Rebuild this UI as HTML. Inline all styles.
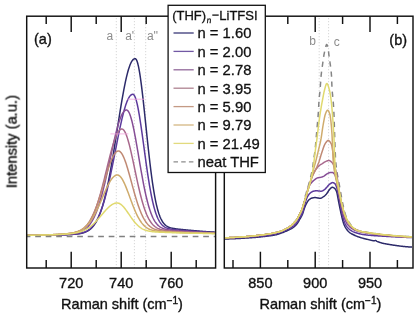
<!DOCTYPE html>
<html><head><meta charset="utf-8"><style>
html,body{margin:0;padding:0;background:#fff;}
svg{display:block;}
text{font-family:"Liberation Sans",sans-serif;}
</style></head><body>
<svg width="420" height="317" viewBox="0 0 420 317">
<defs><filter id="gs" x="0" y="0" width="420" height="317" filterUnits="userSpaceOnUse"><feColorMatrix type="saturate" values="0"/></filter></defs>
<rect width="420" height="317" fill="#fff"/>
<path d="M116.3,18.2V268.0" stroke="#c8c8c8" stroke-width="0.9" stroke-dasharray="1,2" fill="none"/>
<path d="M134.4,18.2V268.0" stroke="#c8c8c8" stroke-width="0.9" stroke-dasharray="1,2" fill="none"/>
<path d="M145.7,18.2V268.0" stroke="#c8c8c8" stroke-width="0.9" stroke-dasharray="1,2" fill="none"/>
<path d="M319.2,18.2V268.0" stroke="#c8c8c8" stroke-width="0.9" stroke-dasharray="1,2" fill="none"/>
<path d="M328.6,18.2V268.0" stroke="#c8c8c8" stroke-width="0.9" stroke-dasharray="1,2" fill="none"/>
<g fill="none" stroke-width="1.5" stroke-linejoin="round">
<path d="M27.40,235.38 L27.90,235.38 L28.40,235.37 L28.90,235.37 L29.40,235.36 L29.90,235.36 L30.40,235.35 L30.90,235.35 L31.40,235.34 L31.90,235.34 L32.40,235.33 L32.90,235.33 L33.40,235.32 L33.90,235.32 L34.40,235.31 L34.90,235.31 L35.40,235.30 L35.90,235.30 L36.40,235.29 L36.90,235.28 L37.40,235.28 L37.90,235.27 L38.40,235.27 L38.90,235.26 L39.40,235.25 L39.90,235.25 L40.40,235.24 L40.90,235.24 L41.40,235.23 L41.90,235.22 L42.40,235.22 L42.90,235.21 L43.40,235.20 L43.90,235.20 L44.40,235.19 L44.90,235.18 L45.40,235.17 L45.90,235.17 L46.40,235.16 L46.90,235.15 L47.40,235.14 L47.90,235.14 L48.40,235.13 L48.90,235.12 L49.40,235.11 L49.90,235.10 L50.40,235.10 L50.90,235.09 L51.40,235.08 L51.90,235.07 L52.40,235.06 L52.90,235.05 L53.40,235.04 L53.90,235.03 L54.40,235.02 L54.90,235.01 L55.40,235.00 L55.90,234.99 L56.40,234.98 L56.90,234.97 L57.40,234.96 L57.90,234.95 L58.40,234.93 L58.90,234.92 L59.40,234.91 L59.90,234.90 L60.40,234.88 L60.90,234.87 L61.40,234.86 L61.90,234.84 L62.40,234.83 L62.90,234.81 L63.40,234.80 L63.90,234.78 L64.40,234.77 L64.90,234.75 L65.40,234.73 L65.90,234.72 L66.40,234.70 L66.90,234.68 L67.40,234.66 L67.90,234.64 L68.40,234.62 L68.90,234.60 L69.40,234.57 L69.90,234.55 L70.40,234.52 L70.90,234.50 L71.40,234.47 L71.90,234.44 L72.40,234.41 L72.90,234.38 L73.40,234.34 L73.90,234.31 L74.40,234.27 L74.90,234.22 L75.40,234.18 L75.90,234.13 L76.40,234.08 L76.90,234.03 L77.40,233.97 L77.90,233.91 L78.40,233.84 L78.90,233.77 L79.40,233.69 L79.90,233.61 L80.40,233.52 L80.90,233.42 L81.40,233.32 L81.90,233.20 L82.40,233.08 L82.90,232.95 L83.40,232.80 L83.90,232.65 L84.40,232.48 L84.90,232.30 L85.40,232.11 L85.90,231.90 L86.40,231.67 L86.90,231.43 L87.40,231.17 L87.90,230.88 L88.40,230.58 L88.90,230.25 L89.40,229.90 L89.90,229.52 L90.40,229.12 L90.90,228.68 L91.40,228.22 L91.90,227.72 L92.40,227.19 L92.90,226.62 L93.40,226.01 L93.90,225.37 L94.40,224.68 L94.90,223.95 L95.40,223.17 L95.90,222.34 L96.40,221.47 L96.90,220.54 L97.40,219.57 L97.90,218.53 L98.40,217.44 L98.90,216.29 L99.40,215.08 L99.90,213.80 L100.40,212.47 L100.90,211.06 L101.40,209.59 L101.90,208.06 L102.40,206.45 L102.90,204.77 L103.40,203.02 L103.90,201.20 L104.40,199.31 L104.90,197.34 L105.40,195.30 L105.90,193.19 L106.40,191.00 L106.90,188.74 L107.40,186.42 L107.90,184.02 L108.40,181.55 L108.90,179.01 L109.40,176.41 L109.90,173.74 L110.40,171.02 L110.90,168.23 L111.40,165.39 L111.90,162.49 L112.40,159.55 L112.90,156.56 L113.40,153.52 L113.90,150.45 L114.40,147.35 L114.90,144.22 L115.40,141.06 L115.90,137.89 L116.40,134.70 L116.90,131.51 L117.40,128.31 L117.90,125.12 L118.40,121.94 L118.90,118.77 L119.40,115.63 L119.90,112.51 L120.40,109.43 L120.90,106.39 L121.40,103.40 L121.90,100.46 L122.40,97.58 L122.90,94.77 L123.40,92.03 L123.90,89.37 L124.40,86.79 L124.90,84.30 L125.40,81.90 L125.90,79.60 L126.40,77.41 L126.90,75.32 L127.40,73.35 L127.90,71.49 L128.40,69.76 L128.90,68.14 L129.40,66.65 L129.90,65.29 L130.40,64.05 L130.90,62.95 L131.40,61.98 L131.90,61.13 L132.40,60.42 L132.90,59.84 L133.40,59.38 L133.90,59.04 L134.40,58.82 L134.90,58.72 L135.40,58.73 L135.90,59.06 L136.40,59.77 L136.90,60.84 L137.40,62.27 L137.90,64.05 L138.40,66.17 L138.90,68.62 L139.40,71.38 L139.90,74.43 L140.40,77.75 L140.90,81.32 L141.40,85.13 L141.90,89.14 L142.40,93.34 L142.90,97.70 L143.40,102.19 L143.90,106.80 L144.40,111.49 L144.90,116.25 L145.40,121.05 L145.90,125.87 L146.40,130.69 L146.90,135.48 L147.40,140.23 L147.90,144.91 L148.40,149.52 L148.90,154.04 L149.40,158.44 L149.90,162.73 L150.40,166.89 L150.90,170.90 L151.40,174.77 L151.90,178.48 L152.40,182.03 L152.90,185.43 L153.40,188.65 L153.90,191.71 L154.40,194.61 L154.90,197.34 L155.40,199.90 L155.90,202.31 L156.40,204.57 L156.90,206.67 L157.40,208.62 L157.90,210.44 L158.40,212.12 L158.90,213.67 L159.40,215.10 L159.90,216.42 L160.40,217.62 L160.90,218.73 L161.40,219.73 L161.90,220.65 L162.40,221.49 L162.90,222.24 L163.40,222.93 L163.90,223.55 L164.40,224.11 L164.90,224.62 L165.40,225.07 L165.90,225.48 L166.40,225.85 L166.90,226.18 L167.40,226.48 L167.90,226.75 L168.40,226.99 L168.90,227.21 L169.40,227.40 L169.90,227.58 L170.40,227.74 L170.90,227.88 L171.40,228.02 L171.90,228.14 L172.40,228.25 L172.90,228.35 L173.40,228.44 L173.90,228.53 L174.40,228.61 L174.90,228.69 L175.40,228.76 L175.90,228.83 L176.40,228.89 L176.90,228.96 L177.40,229.02 L177.90,229.08 L178.40,229.13 L178.90,229.19 L179.40,229.24 L179.90,229.30 L180.40,229.35 L180.90,229.40 L181.40,229.45 L181.90,229.50 L182.40,229.55 L182.90,229.60 L183.40,229.65 L183.90,229.70 L184.40,229.75 L184.90,229.80 L185.40,229.85 L185.90,229.90 L186.40,229.95 L186.90,229.99 L187.40,230.04 L187.90,230.09 L188.40,230.14 L188.90,230.18 L189.40,230.23 L189.90,230.28 L190.40,230.32 L190.90,230.37 L191.40,230.41 L191.90,230.46 L192.40,230.50 L192.90,230.55 L193.40,230.59 L193.90,230.64 L194.40,230.68 L194.90,230.73 L195.40,230.77 L195.90,230.81 L196.40,230.85 L196.90,230.90 L197.40,230.94 L197.90,230.98 L198.40,231.02 L198.90,231.06 L199.40,231.10 L199.90,231.14 L200.40,231.19 L200.90,231.22 L201.40,231.26 L201.90,231.30 L202.40,231.34 L202.90,231.38 L203.40,231.42 L203.90,231.45 L204.40,231.49 L204.90,231.53 L205.40,231.56 L205.90,231.60 L206.40,231.64 L206.90,231.67 L207.40,231.70 L207.90,231.74 L208.40,231.77 L208.90,231.81 L209.40,231.84 L209.90,231.87 L210.40,231.90 L210.90,231.93 L211.40,231.96 L211.90,232.00 L212.40,232.03 L212.90,232.06 L213.40,232.08 L213.90,232.11 L214.40,232.14 L214.90,232.17" stroke="#2c2a6a"/>
<path d="M27.40,235.38 L27.90,235.38 L28.40,235.37 L28.90,235.37 L29.40,235.36 L29.90,235.36 L30.40,235.35 L30.90,235.35 L31.40,235.34 L31.90,235.34 L32.40,235.33 L32.90,235.32 L33.40,235.32 L33.90,235.31 L34.40,235.31 L34.90,235.30 L35.40,235.30 L35.90,235.29 L36.40,235.28 L36.90,235.28 L37.40,235.27 L37.90,235.27 L38.40,235.26 L38.90,235.25 L39.40,235.25 L39.90,235.24 L40.40,235.23 L40.90,235.23 L41.40,235.22 L41.90,235.21 L42.40,235.21 L42.90,235.20 L43.40,235.19 L43.90,235.19 L44.40,235.18 L44.90,235.17 L45.40,235.16 L45.90,235.16 L46.40,235.15 L46.90,235.14 L47.40,235.13 L47.90,235.12 L48.40,235.12 L48.90,235.11 L49.40,235.10 L49.90,235.09 L50.40,235.08 L50.90,235.07 L51.40,235.06 L51.90,235.05 L52.40,235.04 L52.90,235.03 L53.40,235.02 L53.90,235.01 L54.40,235.00 L54.90,234.99 L55.40,234.98 L55.90,234.97 L56.40,234.96 L56.90,234.94 L57.40,234.93 L57.90,234.92 L58.40,234.91 L58.90,234.89 L59.40,234.88 L59.90,234.87 L60.40,234.85 L60.90,234.84 L61.40,234.82 L61.90,234.81 L62.40,234.79 L62.90,234.78 L63.40,234.76 L63.90,234.74 L64.40,234.73 L64.90,234.71 L65.40,234.69 L65.90,234.67 L66.40,234.65 L66.90,234.63 L67.40,234.61 L67.90,234.58 L68.40,234.56 L68.90,234.54 L69.40,234.51 L69.90,234.48 L70.40,234.45 L70.90,234.42 L71.40,234.39 L71.90,234.36 L72.40,234.32 L72.90,234.29 L73.40,234.25 L73.90,234.20 L74.40,234.16 L74.90,234.11 L75.40,234.06 L75.90,234.00 L76.40,233.95 L76.90,233.88 L77.40,233.82 L77.90,233.74 L78.40,233.67 L78.90,233.58 L79.40,233.50 L79.90,233.40 L80.40,233.30 L80.90,233.19 L81.40,233.07 L81.90,232.94 L82.40,232.80 L82.90,232.65 L83.40,232.49 L83.90,232.32 L84.40,232.14 L84.90,231.94 L85.40,231.73 L85.90,231.50 L86.40,231.25 L86.90,230.99 L87.40,230.71 L87.90,230.41 L88.40,230.08 L88.90,229.74 L89.40,229.37 L89.90,228.97 L90.40,228.55 L90.90,228.10 L91.40,227.62 L91.90,227.12 L92.40,226.57 L92.90,226.00 L93.40,225.39 L93.90,224.74 L94.40,224.05 L94.90,223.33 L95.40,222.56 L95.90,221.75 L96.40,220.90 L96.90,220.00 L97.40,219.05 L97.90,218.06 L98.40,217.01 L98.90,215.92 L99.40,214.77 L99.90,213.57 L100.40,212.31 L100.90,211.00 L101.40,209.63 L101.90,208.21 L102.40,206.73 L102.90,205.19 L103.40,203.59 L103.90,201.94 L104.40,200.23 L104.90,198.46 L105.40,196.63 L105.90,194.75 L106.40,192.81 L106.90,190.82 L107.40,188.77 L107.90,186.67 L108.40,184.53 L108.90,182.33 L109.40,180.09 L109.90,177.80 L110.40,175.47 L110.90,173.10 L111.40,170.70 L111.90,168.27 L112.40,165.80 L112.90,163.31 L113.40,160.80 L113.90,158.27 L114.40,155.73 L114.90,153.18 L115.40,150.62 L115.90,148.06 L116.40,145.51 L116.90,142.97 L117.40,140.44 L117.90,137.93 L118.40,135.45 L118.90,132.99 L119.40,130.58 L119.90,128.20 L120.40,125.86 L120.90,123.58 L121.40,121.35 L121.90,119.19 L122.40,117.09 L122.90,115.06 L123.40,113.10 L123.90,111.22 L124.40,109.43 L124.90,107.72 L125.40,106.10 L125.90,104.58 L126.40,103.16 L126.90,101.83 L127.40,100.61 L127.90,99.50 L128.40,98.49 L128.90,97.59 L129.40,96.80 L129.90,96.12 L130.40,95.55 L130.90,95.09 L131.40,94.73 L131.90,94.49 L132.40,94.35 L132.90,94.30 L133.40,94.43 L133.90,94.84 L134.40,95.53 L134.90,96.48 L135.40,97.69 L135.90,99.16 L136.40,100.88 L136.90,102.83 L137.40,105.01 L137.90,107.40 L138.40,109.99 L138.90,112.76 L139.40,115.70 L139.90,118.79 L140.40,122.02 L140.90,125.36 L141.40,128.81 L141.90,132.33 L142.40,135.93 L142.90,139.57 L143.40,143.24 L143.90,146.94 L144.40,150.63 L144.90,154.31 L145.40,157.96 L145.90,161.57 L146.40,165.12 L146.90,168.61 L147.40,172.02 L147.90,175.36 L148.40,178.59 L148.90,181.73 L149.40,184.76 L149.90,187.68 L150.40,190.49 L150.90,193.17 L151.40,195.74 L151.90,198.18 L152.40,200.50 L152.90,202.70 L153.40,204.78 L153.90,206.74 L154.40,208.58 L154.90,210.31 L155.40,211.92 L155.90,213.43 L156.40,214.84 L156.90,216.14 L157.40,217.35 L157.90,218.47 L158.40,219.50 L158.90,220.45 L159.40,221.32 L159.90,222.12 L160.40,222.85 L160.90,223.52 L161.40,224.13 L161.90,224.69 L162.40,225.19 L162.90,225.65 L163.40,226.07 L163.90,226.44 L164.40,226.78 L164.90,227.09 L165.40,227.37 L165.90,227.62 L166.40,227.85 L166.90,228.06 L167.40,228.25 L167.90,228.41 L168.40,228.57 L168.90,228.71 L169.40,228.83 L169.90,228.95 L170.40,229.05 L170.90,229.15 L171.40,229.24 L171.90,229.33 L172.40,229.40 L172.90,229.47 L173.40,229.54 L173.90,229.61 L174.40,229.67 L174.90,229.72 L175.40,229.78 L175.90,229.83 L176.40,229.88 L176.90,229.93 L177.40,229.98 L177.90,230.03 L178.40,230.08 L178.90,230.12 L179.40,230.17 L179.90,230.21 L180.40,230.25 L180.90,230.29 L181.40,230.34 L181.90,230.38 L182.40,230.42 L182.90,230.46 L183.40,230.50 L183.90,230.54 L184.40,230.58 L184.90,230.62 L185.40,230.66 L185.90,230.70 L186.40,230.74 L186.90,230.78 L187.40,230.82 L187.90,230.86 L188.40,230.90 L188.90,230.94 L189.40,230.98 L189.90,231.02 L190.40,231.05 L190.90,231.09 L191.40,231.13 L191.90,231.17 L192.40,231.20 L192.90,231.24 L193.40,231.28 L193.90,231.31 L194.40,231.35 L194.90,231.38 L195.40,231.42 L195.90,231.45 L196.40,231.49 L196.90,231.52 L197.40,231.56 L197.90,231.59 L198.40,231.62 L198.90,231.66 L199.40,231.69 L199.90,231.72 L200.40,231.75 L200.90,231.79 L201.40,231.82 L201.90,231.85 L202.40,231.88 L202.90,231.91 L203.40,231.94 L203.90,231.97 L204.40,232.00 L204.90,232.03 L205.40,232.06 L205.90,232.08 L206.40,232.11 L206.90,232.14 L207.40,232.17 L207.90,232.19 L208.40,232.22 L208.90,232.25 L209.40,232.27 L209.90,232.30 L210.40,232.32 L210.90,232.35 L211.40,232.37 L211.90,232.39 L212.40,232.42 L212.90,232.44 L213.40,232.46 L213.90,232.49 L214.40,232.51 L214.90,232.53" stroke="#5c3a9c"/>
<path d="M27.40,235.37 L27.90,235.36 L28.40,235.35 L28.90,235.35 L29.40,235.34 L29.90,235.34 L30.40,235.33 L30.90,235.32 L31.40,235.32 L31.90,235.31 L32.40,235.30 L32.90,235.30 L33.40,235.29 L33.90,235.28 L34.40,235.28 L34.90,235.27 L35.40,235.26 L35.90,235.26 L36.40,235.25 L36.90,235.24 L37.40,235.23 L37.90,235.23 L38.40,235.22 L38.90,235.21 L39.40,235.20 L39.90,235.19 L40.40,235.19 L40.90,235.18 L41.40,235.17 L41.90,235.16 L42.40,235.15 L42.90,235.14 L43.40,235.13 L43.90,235.12 L44.40,235.11 L44.90,235.10 L45.40,235.09 L45.90,235.08 L46.40,235.07 L46.90,235.06 L47.40,235.05 L47.90,235.04 L48.40,235.03 L48.90,235.02 L49.40,235.01 L49.90,234.99 L50.40,234.98 L50.90,234.97 L51.40,234.95 L51.90,234.94 L52.40,234.93 L52.90,234.91 L53.40,234.90 L53.90,234.89 L54.40,234.87 L54.90,234.86 L55.40,234.84 L55.90,234.82 L56.40,234.81 L56.90,234.79 L57.40,234.77 L57.90,234.76 L58.40,234.74 L58.90,234.72 L59.40,234.70 L59.90,234.68 L60.40,234.66 L60.90,234.64 L61.40,234.62 L61.90,234.59 L62.40,234.57 L62.90,234.55 L63.40,234.52 L63.90,234.49 L64.40,234.47 L64.90,234.44 L65.40,234.41 L65.90,234.38 L66.40,234.34 L66.90,234.31 L67.40,234.28 L67.90,234.24 L68.40,234.20 L68.90,234.16 L69.40,234.11 L69.90,234.06 L70.40,234.02 L70.90,233.96 L71.40,233.91 L71.90,233.85 L72.40,233.78 L72.90,233.72 L73.40,233.64 L73.90,233.57 L74.40,233.48 L74.90,233.39 L75.40,233.30 L75.90,233.20 L76.40,233.09 L76.90,232.97 L77.40,232.85 L77.90,232.71 L78.40,232.57 L78.90,232.41 L79.40,232.25 L79.90,232.07 L80.40,231.88 L80.90,231.67 L81.40,231.45 L81.90,231.22 L82.40,230.96 L82.90,230.69 L83.40,230.40 L83.90,230.09 L84.40,229.76 L84.90,229.41 L85.40,229.03 L85.90,228.63 L86.40,228.20 L86.90,227.74 L87.40,227.25 L87.90,226.74 L88.40,226.19 L88.90,225.61 L89.40,224.99 L89.90,224.34 L90.40,223.65 L90.90,222.91 L91.40,222.14 L91.90,221.33 L92.40,220.47 L92.90,219.57 L93.40,218.63 L93.90,217.63 L94.40,216.59 L94.90,215.50 L95.40,214.35 L95.90,213.16 L96.40,211.92 L96.90,210.62 L97.40,209.27 L97.90,207.86 L98.40,206.40 L98.90,204.89 L99.40,203.32 L99.90,201.70 L100.40,200.02 L100.90,198.30 L101.40,196.52 L101.90,194.69 L102.40,192.80 L102.90,190.87 L103.40,188.90 L103.90,186.88 L104.40,184.81 L104.90,182.71 L105.40,180.56 L105.90,178.38 L106.40,176.17 L106.90,173.93 L107.40,171.66 L107.90,169.37 L108.40,167.06 L108.90,164.74 L109.40,162.40 L109.90,160.06 L110.40,157.72 L110.90,155.38 L111.40,153.04 L111.90,150.72 L112.40,148.42 L112.90,146.14 L113.40,143.89 L113.90,141.67 L114.40,139.48 L114.90,137.34 L115.40,135.25 L115.90,133.22 L116.40,131.24 L116.90,129.32 L117.40,127.47 L117.90,125.69 L118.40,123.99 L118.90,122.38 L119.40,120.84 L119.90,119.40 L120.40,118.05 L120.90,116.80 L121.40,115.65 L121.90,114.60 L122.40,113.65 L122.90,112.81 L123.40,112.08 L123.90,111.46 L124.40,110.95 L124.90,110.55 L125.40,110.26 L125.90,110.08 L126.40,110.00 L126.90,110.06 L127.40,110.32 L127.90,110.77 L128.40,111.42 L128.90,112.26 L129.40,113.29 L129.90,114.50 L130.40,115.89 L130.90,117.45 L131.40,119.17 L131.90,121.04 L132.40,123.07 L132.90,125.22 L133.40,127.51 L133.90,129.91 L134.40,132.41 L134.90,135.02 L135.40,137.70 L135.90,140.45 L136.40,143.27 L136.90,146.14 L137.40,149.04 L137.90,151.97 L138.40,154.92 L138.90,157.88 L139.40,160.83 L139.90,163.77 L140.40,166.69 L140.90,169.57 L141.40,172.42 L141.90,175.23 L142.40,177.98 L142.90,180.67 L143.40,183.30 L143.90,185.86 L144.40,188.34 L144.90,190.75 L145.40,193.08 L145.90,195.32 L146.40,197.48 L146.90,199.55 L147.40,201.53 L147.90,203.43 L148.40,205.24 L148.90,206.96 L149.40,208.59 L149.90,210.14 L150.40,211.60 L150.90,212.99 L151.40,214.29 L151.90,215.51 L152.40,216.66 L152.90,217.73 L153.40,218.74 L153.90,219.68 L154.40,220.55 L154.90,221.36 L155.40,222.12 L155.90,222.82 L156.40,223.46 L156.90,224.06 L157.40,224.61 L157.90,225.12 L158.40,225.59 L158.90,226.02 L159.40,226.42 L159.90,226.78 L160.40,227.11 L160.90,227.42 L161.40,227.70 L161.90,227.95 L162.40,228.19 L162.90,228.40 L163.40,228.60 L163.90,228.78 L164.40,228.94 L164.90,229.09 L165.40,229.23 L165.90,229.36 L166.40,229.48 L166.90,229.58 L167.40,229.68 L167.90,229.78 L168.40,229.86 L168.90,229.94 L169.40,230.02 L169.90,230.09 L170.40,230.15 L170.90,230.22 L171.40,230.28 L171.90,230.33 L172.40,230.39 L172.90,230.44 L173.40,230.49 L173.90,230.54 L174.40,230.58 L174.90,230.63 L175.40,230.67 L175.90,230.71 L176.40,230.76 L176.90,230.80 L177.40,230.84 L177.90,230.88 L178.40,230.92 L178.90,230.96 L179.40,230.99 L179.90,231.03 L180.40,231.07 L180.90,231.11 L181.40,231.14 L181.90,231.18 L182.40,231.21 L182.90,231.25 L183.40,231.29 L183.90,231.32 L184.40,231.36 L184.90,231.39 L185.40,231.42 L185.90,231.46 L186.40,231.49 L186.90,231.53 L187.40,231.56 L187.90,231.59 L188.40,231.62 L188.90,231.66 L189.40,231.69 L189.90,231.72 L190.40,231.75 L190.90,231.78 L191.40,231.81 L191.90,231.85 L192.40,231.88 L192.90,231.91 L193.40,231.94 L193.90,231.96 L194.40,231.99 L194.90,232.02 L195.40,232.05 L195.90,232.08 L196.40,232.11 L196.90,232.13 L197.40,232.16 L197.90,232.19 L198.40,232.22 L198.90,232.24 L199.40,232.27 L199.90,232.29 L200.40,232.32 L200.90,232.34 L201.40,232.37 L201.90,232.39 L202.40,232.42 L202.90,232.44 L203.40,232.46 L203.90,232.49 L204.40,232.51 L204.90,232.53 L205.40,232.55 L205.90,232.57 L206.40,232.59 L206.90,232.62 L207.40,232.64 L207.90,232.66 L208.40,232.68 L208.90,232.70 L209.40,232.71 L209.90,232.73 L210.40,232.75 L210.90,232.77 L211.40,232.79 L211.90,232.80 L212.40,232.82 L212.90,232.84 L213.40,232.86 L213.90,232.87 L214.40,232.89 L214.90,232.90" stroke="#864e96"/>
<path d="M27.40,235.34 L27.90,235.33 L28.40,235.33 L28.90,235.32 L29.40,235.31 L29.90,235.30 L30.40,235.30 L30.90,235.29 L31.40,235.28 L31.90,235.27 L32.40,235.26 L32.90,235.26 L33.40,235.25 L33.90,235.24 L34.40,235.23 L34.90,235.22 L35.40,235.21 L35.90,235.20 L36.40,235.19 L36.90,235.18 L37.40,235.17 L37.90,235.16 L38.40,235.15 L38.90,235.14 L39.40,235.13 L39.90,235.12 L40.40,235.11 L40.90,235.10 L41.40,235.09 L41.90,235.08 L42.40,235.06 L42.90,235.05 L43.40,235.04 L43.90,235.03 L44.40,235.01 L44.90,235.00 L45.40,234.98 L45.90,234.97 L46.40,234.96 L46.90,234.94 L47.40,234.93 L47.90,234.91 L48.40,234.90 L48.90,234.88 L49.40,234.86 L49.90,234.85 L50.40,234.83 L50.90,234.81 L51.40,234.79 L51.90,234.77 L52.40,234.76 L52.90,234.74 L53.40,234.72 L53.90,234.70 L54.40,234.68 L54.90,234.65 L55.40,234.63 L55.90,234.61 L56.40,234.59 L56.90,234.56 L57.40,234.54 L57.90,234.51 L58.40,234.49 L58.90,234.46 L59.40,234.44 L59.90,234.41 L60.40,234.38 L60.90,234.35 L61.40,234.32 L61.90,234.29 L62.40,234.25 L62.90,234.22 L63.40,234.18 L63.90,234.15 L64.40,234.11 L64.90,234.07 L65.40,234.03 L65.90,233.98 L66.40,233.94 L66.90,233.89 L67.40,233.84 L67.90,233.79 L68.40,233.73 L68.90,233.67 L69.40,233.61 L69.90,233.54 L70.40,233.47 L70.90,233.40 L71.40,233.32 L71.90,233.24 L72.40,233.15 L72.90,233.05 L73.40,232.95 L73.90,232.85 L74.40,232.73 L74.90,232.61 L75.40,232.48 L75.90,232.34 L76.40,232.19 L76.90,232.03 L77.40,231.86 L77.90,231.68 L78.40,231.48 L78.90,231.28 L79.40,231.05 L79.90,230.81 L80.40,230.56 L80.90,230.29 L81.40,230.00 L81.90,229.69 L82.40,229.36 L82.90,229.00 L83.40,228.63 L83.90,228.23 L84.40,227.80 L84.90,227.35 L85.40,226.87 L85.90,226.36 L86.40,225.82 L86.90,225.25 L87.40,224.64 L87.90,224.00 L88.40,223.32 L88.90,222.61 L89.40,221.85 L89.90,221.06 L90.40,220.23 L90.90,219.35 L91.40,218.43 L91.90,217.47 L92.40,216.46 L92.90,215.40 L93.40,214.30 L93.90,213.15 L94.40,211.95 L94.90,210.71 L95.40,209.41 L95.90,208.07 L96.40,206.68 L96.90,205.24 L97.40,203.75 L97.90,202.21 L98.40,200.63 L98.90,199.00 L99.40,197.33 L99.90,195.61 L100.40,193.86 L100.90,192.06 L101.40,190.22 L101.90,188.35 L102.40,186.45 L102.90,184.52 L103.40,182.55 L103.90,180.57 L104.40,178.56 L104.90,176.54 L105.40,174.50 L105.90,172.45 L106.40,170.40 L106.90,168.34 L107.40,166.29 L107.90,164.24 L108.40,162.21 L108.90,160.19 L109.40,158.20 L109.90,156.23 L110.40,154.30 L110.90,152.40 L111.40,150.54 L111.90,148.73 L112.40,146.97 L112.90,145.27 L113.40,143.63 L113.90,142.05 L114.40,140.55 L114.90,139.12 L115.40,137.77 L115.90,136.51 L116.40,135.33 L116.90,134.25 L117.40,133.26 L117.90,132.36 L118.40,131.57 L118.90,130.88 L119.40,130.29 L119.90,129.82 L120.40,129.45 L120.90,129.19 L121.40,129.04 L121.90,129.00 L122.40,129.11 L122.90,129.36 L123.40,129.77 L123.90,130.33 L124.40,131.03 L124.90,131.88 L125.40,132.87 L125.90,133.99 L126.40,135.24 L126.90,136.62 L127.40,138.12 L127.90,139.74 L128.40,141.45 L128.90,143.27 L129.40,145.18 L129.90,147.17 L130.40,149.24 L130.90,151.37 L131.40,153.56 L131.90,155.81 L132.40,158.10 L132.90,160.42 L133.40,162.77 L133.90,165.13 L134.40,167.51 L134.90,169.89 L135.40,172.27 L135.90,174.64 L136.40,176.99 L136.90,179.32 L137.40,181.62 L137.90,183.88 L138.40,186.10 L138.90,188.28 L139.40,190.41 L139.90,192.49 L140.40,194.52 L140.90,196.48 L141.40,198.38 L141.90,200.23 L142.40,202.00 L142.90,203.71 L143.40,205.35 L143.90,206.93 L144.40,208.44 L144.90,209.88 L145.40,211.25 L145.90,212.56 L146.40,213.80 L146.90,214.98 L147.40,216.09 L147.90,217.15 L148.40,218.14 L148.90,219.07 L149.40,219.95 L149.90,220.78 L150.40,221.55 L150.90,222.27 L151.40,222.95 L151.90,223.58 L152.40,224.16 L152.90,224.71 L153.40,225.22 L153.90,225.69 L154.40,226.12 L154.90,226.52 L155.40,226.90 L155.90,227.24 L156.40,227.56 L156.90,227.85 L157.40,228.12 L157.90,228.37 L158.40,228.60 L158.90,228.81 L159.40,229.00 L159.90,229.18 L160.40,229.34 L160.90,229.49 L161.40,229.63 L161.90,229.76 L162.40,229.88 L162.90,229.99 L163.40,230.09 L163.90,230.19 L164.40,230.27 L164.90,230.35 L165.40,230.43 L165.90,230.50 L166.40,230.57 L166.90,230.63 L167.40,230.69 L167.90,230.75 L168.40,230.80 L168.90,230.85 L169.40,230.90 L169.90,230.95 L170.40,230.99 L170.90,231.04 L171.40,231.08 L171.90,231.12 L172.40,231.16 L172.90,231.20 L173.40,231.23 L173.90,231.27 L174.40,231.31 L174.90,231.34 L175.40,231.38 L175.90,231.41 L176.40,231.45 L176.90,231.48 L177.40,231.51 L177.90,231.54 L178.40,231.58 L178.90,231.61 L179.40,231.64 L179.90,231.67 L180.40,231.70 L180.90,231.73 L181.40,231.76 L181.90,231.79 L182.40,231.82 L182.90,231.85 L183.40,231.88 L183.90,231.91 L184.40,231.94 L184.90,231.97 L185.40,232.00 L185.90,232.02 L186.40,232.05 L186.90,232.08 L187.40,232.11 L187.90,232.13 L188.40,232.16 L188.90,232.19 L189.40,232.21 L189.90,232.24 L190.40,232.26 L190.90,232.29 L191.40,232.31 L191.90,232.34 L192.40,232.36 L192.90,232.39 L193.40,232.41 L193.90,232.43 L194.40,232.46 L194.90,232.48 L195.40,232.50 L195.90,232.52 L196.40,232.55 L196.90,232.57 L197.40,232.59 L197.90,232.61 L198.40,232.63 L198.90,232.65 L199.40,232.67 L199.90,232.69 L200.40,232.71 L200.90,232.73 L201.40,232.75 L201.90,232.77 L202.40,232.79 L202.90,232.80 L203.40,232.82 L203.90,232.84 L204.40,232.86 L204.90,232.87 L205.40,232.89 L205.90,232.90 L206.40,232.92 L206.90,232.94 L207.40,232.95 L207.90,232.97 L208.40,232.98 L208.90,232.99 L209.40,233.01 L209.90,233.02 L210.40,233.04 L210.90,233.05 L211.40,233.06 L211.90,233.07 L212.40,233.09 L212.90,233.10 L213.40,233.11 L213.90,233.12 L214.40,233.13 L214.90,233.14" stroke="#a8688c"/>
<path d="M27.40,235.32 L27.90,235.31 L28.40,235.30 L28.90,235.30 L29.40,235.29 L29.90,235.28 L30.40,235.27 L30.90,235.26 L31.40,235.25 L31.90,235.24 L32.40,235.24 L32.90,235.23 L33.40,235.22 L33.90,235.21 L34.40,235.20 L34.90,235.19 L35.40,235.18 L35.90,235.17 L36.40,235.16 L36.90,235.14 L37.40,235.13 L37.90,235.12 L38.40,235.11 L38.90,235.10 L39.40,235.09 L39.90,235.07 L40.40,235.06 L40.90,235.05 L41.40,235.03 L41.90,235.02 L42.40,235.01 L42.90,234.99 L43.40,234.98 L43.90,234.96 L44.40,234.95 L44.90,234.93 L45.40,234.92 L45.90,234.90 L46.40,234.89 L46.90,234.87 L47.40,234.85 L47.90,234.83 L48.40,234.82 L48.90,234.80 L49.40,234.78 L49.90,234.76 L50.40,234.74 L50.90,234.72 L51.40,234.70 L51.90,234.68 L52.40,234.66 L52.90,234.64 L53.40,234.61 L53.90,234.59 L54.40,234.57 L54.90,234.55 L55.40,234.52 L55.90,234.50 L56.40,234.47 L56.90,234.44 L57.40,234.42 L57.90,234.39 L58.40,234.36 L58.90,234.33 L59.40,234.30 L59.90,234.27 L60.40,234.24 L60.90,234.21 L61.40,234.18 L61.90,234.14 L62.40,234.11 L62.90,234.07 L63.40,234.03 L63.90,234.00 L64.40,233.96 L64.90,233.91 L65.40,233.87 L65.90,233.82 L66.40,233.78 L66.90,233.73 L67.40,233.68 L67.90,233.62 L68.40,233.56 L68.90,233.50 L69.40,233.44 L69.90,233.37 L70.40,233.30 L70.90,233.23 L71.40,233.15 L71.90,233.06 L72.40,232.97 L72.90,232.88 L73.40,232.78 L73.90,232.67 L74.40,232.55 L74.90,232.43 L75.40,232.30 L75.90,232.16 L76.40,232.00 L76.90,231.84 L77.40,231.67 L77.90,231.49 L78.40,231.29 L78.90,231.08 L79.40,230.85 L79.90,230.61 L80.40,230.35 L80.90,230.08 L81.40,229.78 L81.90,229.47 L82.40,229.13 L82.90,228.78 L83.40,228.39 L83.90,227.99 L84.40,227.56 L84.90,227.10 L85.40,226.61 L85.90,226.10 L86.40,225.55 L86.90,224.97 L87.40,224.36 L87.90,223.72 L88.40,223.04 L88.90,222.32 L89.40,221.57 L89.90,220.78 L90.40,219.94 L90.90,219.07 L91.40,218.16 L91.90,217.21 L92.40,216.21 L92.90,215.18 L93.40,214.10 L93.90,212.98 L94.40,211.81 L94.90,210.61 L95.40,209.36 L95.90,208.07 L96.40,206.74 L96.90,205.37 L97.40,203.97 L97.90,202.52 L98.40,201.05 L98.90,199.53 L99.40,197.99 L99.90,196.42 L100.40,194.82 L100.90,193.19 L101.40,191.55 L101.90,189.89 L102.40,188.21 L102.90,186.52 L103.40,184.82 L103.90,183.12 L104.40,181.42 L104.90,179.72 L105.40,178.03 L105.90,176.35 L106.40,174.69 L106.90,173.05 L107.40,171.44 L107.90,169.86 L108.40,168.31 L108.90,166.80 L109.40,165.34 L109.90,163.92 L110.40,162.56 L110.90,161.26 L111.40,160.02 L111.90,158.84 L112.40,157.73 L112.90,156.70 L113.40,155.74 L113.90,154.87 L114.40,154.07 L114.90,153.37 L115.40,152.75 L115.90,152.22 L116.40,151.79 L116.90,151.45 L117.40,151.20 L117.90,151.05 L118.40,151.00 L118.90,151.05 L119.40,151.23 L119.90,151.51 L120.40,151.91 L120.90,152.43 L121.40,153.05 L121.90,153.79 L122.40,154.63 L122.90,155.57 L123.40,156.60 L123.90,157.73 L124.40,158.95 L124.90,160.25 L125.40,161.63 L125.90,163.08 L126.40,164.59 L126.90,166.17 L127.40,167.80 L127.90,169.48 L128.40,171.20 L128.90,172.96 L129.40,174.75 L129.90,176.56 L130.40,178.39 L130.90,180.23 L131.40,182.07 L131.90,183.92 L132.40,185.76 L132.90,187.59 L133.40,189.41 L133.90,191.21 L134.40,192.99 L134.90,194.73 L135.40,196.45 L135.90,198.13 L136.40,199.77 L136.90,201.38 L137.40,202.94 L137.90,204.45 L138.40,205.92 L138.90,207.34 L139.40,208.71 L139.90,210.03 L140.40,211.30 L140.90,212.52 L141.40,213.68 L141.90,214.80 L142.40,215.86 L142.90,216.88 L143.40,217.84 L143.90,218.75 L144.40,219.62 L144.90,220.44 L145.40,221.21 L145.90,221.94 L146.40,222.62 L146.90,223.27 L147.40,223.87 L147.90,224.44 L148.40,224.97 L148.90,225.46 L149.40,225.93 L149.90,226.36 L150.40,226.76 L150.90,227.13 L151.40,227.47 L151.90,227.80 L152.40,228.09 L152.90,228.37 L153.40,228.62 L153.90,228.86 L154.40,229.07 L154.90,229.27 L155.40,229.46 L155.90,229.63 L156.40,229.79 L156.90,229.93 L157.40,230.07 L157.90,230.19 L158.40,230.30 L158.90,230.41 L159.40,230.51 L159.90,230.60 L160.40,230.68 L160.90,230.76 L161.40,230.84 L161.90,230.90 L162.40,230.97 L162.90,231.03 L163.40,231.08 L163.90,231.14 L164.40,231.19 L164.90,231.24 L165.40,231.28 L165.90,231.33 L166.40,231.37 L166.90,231.41 L167.40,231.45 L167.90,231.48 L168.40,231.52 L168.90,231.55 L169.40,231.59 L169.90,231.62 L170.40,231.65 L170.90,231.68 L171.40,231.71 L171.90,231.75 L172.40,231.78 L172.90,231.80 L173.40,231.83 L173.90,231.86 L174.40,231.89 L174.90,231.92 L175.40,231.95 L175.90,231.97 L176.40,232.00 L176.90,232.03 L177.40,232.05 L177.90,232.08 L178.40,232.11 L178.90,232.13 L179.40,232.16 L179.90,232.18 L180.40,232.21 L180.90,232.23 L181.40,232.26 L181.90,232.28 L182.40,232.30 L182.90,232.33 L183.40,232.35 L183.90,232.37 L184.40,232.40 L184.90,232.42 L185.40,232.44 L185.90,232.46 L186.40,232.49 L186.90,232.51 L187.40,232.53 L187.90,232.55 L188.40,232.57 L188.90,232.59 L189.40,232.61 L189.90,232.63 L190.40,232.65 L190.90,232.67 L191.40,232.69 L191.90,232.71 L192.40,232.73 L192.90,232.75 L193.40,232.77 L193.90,232.79 L194.40,232.80 L194.90,232.82 L195.40,232.84 L195.90,232.86 L196.40,232.87 L196.90,232.89 L197.40,232.91 L197.90,232.92 L198.40,232.94 L198.90,232.95 L199.40,232.97 L199.90,232.98 L200.40,233.00 L200.90,233.01 L201.40,233.03 L201.90,233.04 L202.40,233.05 L202.90,233.07 L203.40,233.08 L203.90,233.09 L204.40,233.11 L204.90,233.12 L205.40,233.13 L205.90,233.14 L206.40,233.15 L206.90,233.16 L207.40,233.17 L207.90,233.19 L208.40,233.20 L208.90,233.21 L209.40,233.22 L209.90,233.23 L210.40,233.24 L210.90,233.25 L211.40,233.25 L211.90,233.26 L212.40,233.27 L212.90,233.28 L213.40,233.29 L213.90,233.30 L214.40,233.30 L214.90,233.31" stroke="#c08a74"/>
<path d="M27.40,235.32 L27.90,235.31 L28.40,235.30 L28.90,235.29 L29.40,235.29 L29.90,235.28 L30.40,235.27 L30.90,235.26 L31.40,235.25 L31.90,235.24 L32.40,235.23 L32.90,235.22 L33.40,235.21 L33.90,235.20 L34.40,235.19 L34.90,235.18 L35.40,235.17 L35.90,235.16 L36.40,235.15 L36.90,235.14 L37.40,235.13 L37.90,235.12 L38.40,235.11 L38.90,235.09 L39.40,235.08 L39.90,235.07 L40.40,235.06 L40.90,235.04 L41.40,235.03 L41.90,235.02 L42.40,235.00 L42.90,234.99 L43.40,234.97 L43.90,234.96 L44.40,234.94 L44.90,234.93 L45.40,234.91 L45.90,234.90 L46.40,234.88 L46.90,234.86 L47.40,234.85 L47.90,234.83 L48.40,234.81 L48.90,234.79 L49.40,234.78 L49.90,234.76 L50.40,234.74 L50.90,234.72 L51.40,234.70 L51.90,234.68 L52.40,234.65 L52.90,234.63 L53.40,234.61 L53.90,234.59 L54.40,234.56 L54.90,234.54 L55.40,234.52 L55.90,234.49 L56.40,234.47 L56.90,234.44 L57.40,234.41 L57.90,234.39 L58.40,234.36 L58.90,234.33 L59.40,234.30 L59.90,234.27 L60.40,234.24 L60.90,234.20 L61.40,234.17 L61.90,234.13 L62.40,234.10 L62.90,234.06 L63.40,234.02 L63.90,233.98 L64.40,233.94 L64.90,233.90 L65.40,233.85 L65.90,233.80 L66.40,233.76 L66.90,233.70 L67.40,233.65 L67.90,233.59 L68.40,233.53 L68.90,233.47 L69.40,233.40 L69.90,233.33 L70.40,233.26 L70.90,233.18 L71.40,233.10 L71.90,233.01 L72.40,232.92 L72.90,232.82 L73.40,232.72 L73.90,232.61 L74.40,232.49 L74.90,232.37 L75.40,232.24 L75.90,232.09 L76.40,231.95 L76.90,231.79 L77.40,231.62 L77.90,231.44 L78.40,231.24 L78.90,231.04 L79.40,230.83 L79.90,230.60 L80.40,230.35 L80.90,230.09 L81.40,229.82 L81.90,229.53 L82.40,229.22 L82.90,228.89 L83.40,228.55 L83.90,228.18 L84.40,227.80 L84.90,227.39 L85.40,226.96 L85.90,226.51 L86.40,226.04 L86.90,225.54 L87.40,225.02 L87.90,224.47 L88.40,223.89 L88.90,223.29 L89.40,222.67 L89.90,222.01 L90.40,221.33 L90.90,220.62 L91.40,219.88 L91.90,219.12 L92.40,218.32 L92.90,217.50 L93.40,216.65 L93.90,215.78 L94.40,214.87 L94.90,213.94 L95.40,212.99 L95.90,212.01 L96.40,211.01 L96.90,209.98 L97.40,208.93 L97.90,207.86 L98.40,206.77 L98.90,205.67 L99.40,204.55 L99.90,203.42 L100.40,202.27 L100.90,201.12 L101.40,199.96 L101.90,198.79 L102.40,197.62 L102.90,196.45 L103.40,195.29 L103.90,194.13 L104.40,192.98 L104.90,191.84 L105.40,190.71 L105.90,189.60 L106.40,188.51 L106.90,187.45 L107.40,186.41 L107.90,185.40 L108.40,184.42 L108.90,183.47 L109.40,182.56 L109.90,181.70 L110.40,180.87 L110.90,180.09 L111.40,179.36 L111.90,178.68 L112.40,178.05 L112.90,177.48 L113.40,176.96 L113.90,176.50 L114.40,176.10 L114.90,175.76 L115.40,175.48 L115.90,175.26 L116.40,175.11 L116.90,175.02 L117.40,175.00 L117.90,175.06 L118.40,175.21 L118.90,175.45 L119.40,175.78 L119.90,176.19 L120.40,176.69 L120.90,177.27 L121.40,177.94 L121.90,178.67 L122.40,179.49 L122.90,180.37 L123.40,181.31 L123.90,182.32 L124.40,183.39 L124.90,184.50 L125.40,185.66 L125.90,186.87 L126.40,188.11 L126.90,189.39 L127.40,190.69 L127.90,192.02 L128.40,193.36 L128.90,194.71 L129.40,196.07 L129.90,197.44 L130.40,198.80 L130.90,200.16 L131.40,201.51 L131.90,202.85 L132.40,204.17 L132.90,205.47 L133.40,206.74 L133.90,207.99 L134.40,209.21 L134.90,210.40 L135.40,211.55 L135.90,212.68 L136.40,213.76 L136.90,214.81 L137.40,215.82 L137.90,216.79 L138.40,217.72 L138.90,218.61 L139.40,219.46 L139.90,220.27 L140.40,221.04 L140.90,221.77 L141.40,222.47 L141.90,223.12 L142.40,223.74 L142.90,224.33 L143.40,224.88 L143.90,225.39 L144.40,225.88 L144.90,226.33 L145.40,226.75 L145.90,227.15 L146.40,227.51 L146.90,227.86 L147.40,228.17 L147.90,228.47 L148.40,228.74 L148.90,228.99 L149.40,229.23 L149.90,229.44 L150.40,229.64 L150.90,229.82 L151.40,229.99 L151.90,230.15 L152.40,230.29 L152.90,230.42 L153.40,230.54 L153.90,230.66 L154.40,230.76 L154.90,230.85 L155.40,230.94 L155.90,231.02 L156.40,231.10 L156.90,231.17 L157.40,231.23 L157.90,231.29 L158.40,231.35 L158.90,231.40 L159.40,231.45 L159.90,231.49 L160.40,231.54 L160.90,231.58 L161.40,231.62 L161.90,231.65 L162.40,231.69 L162.90,231.72 L163.40,231.75 L163.90,231.78 L164.40,231.81 L164.90,231.84 L165.40,231.87 L165.90,231.90 L166.40,231.93 L166.90,231.95 L167.40,231.98 L167.90,232.00 L168.40,232.03 L168.90,232.05 L169.40,232.08 L169.90,232.10 L170.40,232.13 L170.90,232.15 L171.40,232.17 L171.90,232.20 L172.40,232.22 L172.90,232.24 L173.40,232.26 L173.90,232.29 L174.40,232.31 L174.90,232.33 L175.40,232.35 L175.90,232.37 L176.40,232.39 L176.90,232.41 L177.40,232.44 L177.90,232.46 L178.40,232.48 L178.90,232.50 L179.40,232.52 L179.90,232.54 L180.40,232.56 L180.90,232.58 L181.40,232.60 L181.90,232.62 L182.40,232.63 L182.90,232.65 L183.40,232.67 L183.90,232.69 L184.40,232.71 L184.90,232.73 L185.40,232.74 L185.90,232.76 L186.40,232.78 L186.90,232.80 L187.40,232.81 L187.90,232.83 L188.40,232.85 L188.90,232.86 L189.40,232.88 L189.90,232.90 L190.40,232.91 L190.90,232.93 L191.40,232.94 L191.90,232.96 L192.40,232.97 L192.90,232.99 L193.40,233.00 L193.90,233.01 L194.40,233.03 L194.90,233.04 L195.40,233.06 L195.90,233.07 L196.40,233.08 L196.90,233.09 L197.40,233.11 L197.90,233.12 L198.40,233.13 L198.90,233.14 L199.40,233.15 L199.90,233.17 L200.40,233.18 L200.90,233.19 L201.40,233.20 L201.90,233.21 L202.40,233.22 L202.90,233.23 L203.40,233.24 L203.90,233.25 L204.40,233.26 L204.90,233.27 L205.40,233.28 L205.90,233.29 L206.40,233.29 L206.90,233.30 L207.40,233.31 L207.90,233.32 L208.40,233.33 L208.90,233.33 L209.40,233.34 L209.90,233.35 L210.40,233.36 L210.90,233.36 L211.40,233.37 L211.90,233.38 L212.40,233.38 L212.90,233.39 L213.40,233.39 L213.90,233.40 L214.40,233.40 L214.90,233.41" stroke="#cfab6c"/>
<path d="M27.40,235.33 L27.90,235.33 L28.40,235.32 L28.90,235.31 L29.40,235.30 L29.90,235.30 L30.40,235.29 L30.90,235.28 L31.40,235.27 L31.90,235.27 L32.40,235.26 L32.90,235.25 L33.40,235.24 L33.90,235.23 L34.40,235.22 L34.90,235.21 L35.40,235.21 L35.90,235.20 L36.40,235.19 L36.90,235.18 L37.40,235.17 L37.90,235.16 L38.40,235.15 L38.90,235.14 L39.40,235.13 L39.90,235.12 L40.40,235.10 L40.90,235.09 L41.40,235.08 L41.90,235.07 L42.40,235.06 L42.90,235.05 L43.40,235.03 L43.90,235.02 L44.40,235.01 L44.90,235.00 L45.40,234.98 L45.90,234.97 L46.40,234.95 L46.90,234.94 L47.40,234.93 L47.90,234.91 L48.40,234.90 L48.90,234.88 L49.40,234.87 L49.90,234.85 L50.40,234.83 L50.90,234.82 L51.40,234.80 L51.90,234.78 L52.40,234.76 L52.90,234.75 L53.40,234.73 L53.90,234.71 L54.40,234.69 L54.90,234.67 L55.40,234.65 L55.90,234.63 L56.40,234.61 L56.90,234.59 L57.40,234.56 L57.90,234.54 L58.40,234.52 L58.90,234.50 L59.40,234.47 L59.90,234.45 L60.40,234.42 L60.90,234.39 L61.40,234.37 L61.90,234.34 L62.40,234.31 L62.90,234.28 L63.40,234.25 L63.90,234.22 L64.40,234.18 L64.90,234.15 L65.40,234.11 L65.90,234.08 L66.40,234.04 L66.90,234.00 L67.40,233.96 L67.90,233.92 L68.40,233.87 L68.90,233.82 L69.40,233.77 L69.90,233.72 L70.40,233.67 L70.90,233.61 L71.40,233.55 L71.90,233.49 L72.40,233.43 L72.90,233.36 L73.40,233.29 L73.90,233.21 L74.40,233.13 L74.90,233.04 L75.40,232.95 L75.90,232.86 L76.40,232.76 L76.90,232.66 L77.40,232.54 L77.90,232.43 L78.40,232.30 L78.90,232.17 L79.40,232.04 L79.90,231.89 L80.40,231.74 L80.90,231.58 L81.40,231.41 L81.90,231.23 L82.40,231.05 L82.90,230.85 L83.40,230.64 L83.90,230.42 L84.40,230.20 L84.90,229.96 L85.40,229.71 L85.90,229.44 L86.40,229.17 L86.90,228.88 L87.40,228.58 L87.90,228.27 L88.40,227.95 L88.90,227.61 L89.40,227.26 L89.90,226.89 L90.40,226.52 L90.90,226.12 L91.40,225.72 L91.90,225.30 L92.40,224.87 L92.90,224.42 L93.40,223.97 L93.90,223.49 L94.40,223.01 L94.90,222.51 L95.40,222.01 L95.90,221.49 L96.40,220.96 L96.90,220.42 L97.40,219.87 L97.90,219.31 L98.40,218.75 L98.90,218.18 L99.40,217.60 L99.90,217.02 L100.40,216.43 L100.90,215.84 L101.40,215.25 L101.90,214.65 L102.40,214.06 L102.90,213.47 L103.40,212.89 L103.90,212.30 L104.40,211.73 L104.90,211.16 L105.40,210.59 L105.90,210.04 L106.40,209.50 L106.90,208.98 L107.40,208.46 L107.90,207.97 L108.40,207.48 L108.90,207.02 L109.40,206.58 L109.90,206.16 L110.40,205.76 L110.90,205.38 L111.40,205.03 L111.90,204.70 L112.40,204.40 L112.90,204.13 L113.40,203.88 L113.90,203.67 L114.40,203.48 L114.90,203.32 L115.40,203.20 L115.90,203.10 L116.40,203.04 L116.90,203.00 L117.40,203.01 L117.90,203.06 L118.40,203.16 L118.90,203.32 L119.40,203.52 L119.90,203.77 L120.40,204.07 L120.90,204.42 L121.40,204.80 L121.90,205.23 L122.40,205.70 L122.90,206.21 L123.40,206.75 L123.90,207.33 L124.40,207.93 L124.90,208.56 L125.40,209.21 L125.90,209.89 L126.40,210.58 L126.90,211.28 L127.40,212.00 L127.90,212.72 L128.40,213.46 L128.90,214.19 L129.40,214.93 L129.90,215.66 L130.40,216.39 L130.90,217.11 L131.40,217.82 L131.90,218.52 L132.40,219.21 L132.90,219.88 L133.40,220.54 L133.90,221.18 L134.40,221.80 L134.90,222.40 L135.40,222.98 L135.90,223.54 L136.40,224.08 L136.90,224.59 L137.40,225.09 L137.90,225.56 L138.40,226.01 L138.90,226.43 L139.40,226.84 L139.90,227.22 L140.40,227.58 L140.90,227.92 L141.40,228.24 L141.90,228.54 L142.40,228.82 L142.90,229.08 L143.40,229.33 L143.90,229.56 L144.40,229.77 L144.90,229.97 L145.40,230.15 L145.90,230.32 L146.40,230.48 L146.90,230.63 L147.40,230.76 L147.90,230.89 L148.40,231.00 L148.90,231.11 L149.40,231.20 L149.90,231.29 L150.40,231.38 L150.90,231.45 L151.40,231.52 L151.90,231.59 L152.40,231.65 L152.90,231.70 L153.40,231.75 L153.90,231.80 L154.40,231.85 L154.90,231.89 L155.40,231.92 L155.90,231.96 L156.40,231.99 L156.90,232.03 L157.40,232.06 L157.90,232.08 L158.40,232.11 L158.90,232.14 L159.40,232.16 L159.90,232.19 L160.40,232.21 L160.90,232.23 L161.40,232.25 L161.90,232.27 L162.40,232.29 L162.90,232.31 L163.40,232.33 L163.90,232.35 L164.40,232.37 L164.90,232.39 L165.40,232.41 L165.90,232.43 L166.40,232.45 L166.90,232.46 L167.40,232.48 L167.90,232.50 L168.40,232.52 L168.90,232.53 L169.40,232.55 L169.90,232.57 L170.40,232.59 L170.90,232.60 L171.40,232.62 L171.90,232.64 L172.40,232.65 L172.90,232.67 L173.40,232.69 L173.90,232.70 L174.40,232.72 L174.90,232.73 L175.40,232.75 L175.90,232.76 L176.40,232.78 L176.90,232.80 L177.40,232.81 L177.90,232.83 L178.40,232.84 L178.90,232.86 L179.40,232.87 L179.90,232.89 L180.40,232.90 L180.90,232.91 L181.40,232.93 L181.90,232.94 L182.40,232.96 L182.90,232.97 L183.40,232.98 L183.90,233.00 L184.40,233.01 L184.90,233.02 L185.40,233.04 L185.90,233.05 L186.40,233.06 L186.90,233.07 L187.40,233.09 L187.90,233.10 L188.40,233.11 L188.90,233.12 L189.40,233.13 L189.90,233.15 L190.40,233.16 L190.90,233.17 L191.40,233.18 L191.90,233.19 L192.40,233.20 L192.90,233.21 L193.40,233.22 L193.90,233.23 L194.40,233.24 L194.90,233.25 L195.40,233.26 L195.90,233.27 L196.40,233.28 L196.90,233.29 L197.40,233.30 L197.90,233.30 L198.40,233.31 L198.90,233.32 L199.40,233.33 L199.90,233.34 L200.40,233.35 L200.90,233.35 L201.40,233.36 L201.90,233.37 L202.40,233.37 L202.90,233.38 L203.40,233.39 L203.90,233.39 L204.40,233.40 L204.90,233.41 L205.40,233.41 L205.90,233.42 L206.40,233.42 L206.90,233.43 L207.40,233.44 L207.90,233.44 L208.40,233.45 L208.90,233.45 L209.40,233.46 L209.90,233.46 L210.40,233.46 L210.90,233.47 L211.40,233.47 L211.90,233.48 L212.40,233.48 L212.90,233.48 L213.40,233.49 L213.90,233.49 L214.40,233.49 L214.90,233.50" stroke="#e0d96e"/>
<path d="M26.7,236.4H215.6" stroke="#808080" stroke-dasharray="5.7,4.8" stroke-dashoffset="2"/>
<path d="M225.00,237.79 L225.50,237.77 L226.00,237.76 L226.50,237.74 L227.00,237.72 L227.50,237.70 L228.00,237.69 L228.50,237.67 L229.00,237.65 L229.50,237.62 L230.00,237.60 L230.50,237.58 L231.00,237.56 L231.50,237.53 L232.00,237.51 L232.50,237.48 L233.00,237.46 L233.50,237.43 L234.00,237.40 L234.50,237.38 L235.00,237.35 L235.50,237.32 L236.00,237.29 L236.50,237.26 L237.00,237.23 L237.50,237.20 L238.00,237.17 L238.50,237.14 L239.00,237.11 L239.50,237.07 L240.00,237.04 L240.50,237.01 L241.00,236.98 L241.50,236.94 L242.00,236.91 L242.50,236.87 L243.00,236.84 L243.50,236.81 L244.00,236.77 L244.50,236.74 L245.00,236.70 L245.50,236.66 L246.00,236.63 L246.50,236.59 L247.00,236.55 L247.50,236.51 L248.00,236.46 L248.50,236.42 L249.00,236.38 L249.50,236.33 L250.00,236.28 L250.50,236.24 L251.00,236.19 L251.50,236.14 L252.00,236.09 L252.50,236.04 L253.00,235.99 L253.50,235.93 L254.00,235.88 L254.50,235.83 L255.00,235.77 L255.50,235.72 L256.00,235.66 L256.50,235.61 L257.00,235.55 L257.50,235.49 L258.00,235.43 L258.50,235.38 L259.00,235.32 L259.50,235.26 L260.00,235.20 L260.50,235.14 L261.00,235.08 L261.50,235.02 L262.00,234.96 L262.50,234.89 L263.00,234.83 L263.50,234.76 L264.00,234.70 L264.50,234.63 L265.00,234.56 L265.50,234.49 L266.00,234.42 L266.50,234.35 L267.00,234.27 L267.50,234.20 L268.00,234.12 L268.50,234.04 L269.00,233.96 L269.50,233.88 L270.00,233.80 L270.50,233.72 L271.00,233.63 L271.50,233.54 L272.00,233.44 L272.50,233.35 L273.00,233.25 L273.50,233.15 L274.00,233.05 L274.50,232.94 L275.00,232.83 L275.50,232.72 L276.00,232.60 L276.50,232.48 L277.00,232.36 L277.50,232.23 L278.00,232.11 L278.50,231.97 L279.00,231.83 L279.50,231.68 L280.00,231.53 L280.50,231.37 L281.00,231.20 L281.50,231.02 L282.00,230.82 L282.50,230.60 L283.00,230.37 L283.50,230.14 L284.00,229.89 L284.50,229.65 L285.00,229.40 L285.50,229.15 L286.00,228.90 L286.50,228.65 L287.00,228.38 L287.50,228.10 L288.00,227.81 L288.50,227.50 L289.00,227.17 L289.50,226.81 L290.00,226.43 L290.50,226.03 L291.00,225.62 L291.50,225.20 L292.00,224.76 L292.50,224.31 L293.00,223.84 L293.50,223.35 L294.00,222.83 L294.50,222.30 L295.00,221.75 L295.50,221.17 L296.00,220.57 L296.50,219.93 L297.00,219.24 L297.50,218.49 L298.00,217.63 L298.50,216.69 L299.00,215.71 L299.50,214.70 L300.00,213.70 L300.50,212.69 L301.00,211.63 L301.50,210.49 L302.00,209.26 L302.50,207.98 L303.00,206.48 L303.50,204.53 L304.00,201.26 L304.50,198.64 L305.00,196.79 L305.50,195.21 L306.00,193.66 L306.50,191.98 L307.00,190.28 L307.50,188.58 L308.00,186.85 L308.50,185.10 L309.00,183.33 L309.50,181.52 L310.00,179.61 L310.50,177.66 L311.00,175.63 L311.50,173.43 L312.00,170.99 L312.50,168.22 L313.00,165.00 L313.50,160.80 L314.00,157.29 L314.50,154.27 L315.00,150.82 L315.50,145.90 L316.00,140.00 L316.50,134.29 L317.00,128.50 L317.50,122.76 L318.00,117.29 L318.50,110.23 L319.00,100.00 L319.50,95.16 L320.00,91.07 L320.50,84.04 L321.00,76.60 L321.50,72.18 L322.00,68.64 L322.50,64.99 L323.00,61.19 L323.50,57.66 L324.00,54.68 L324.50,52.08 L325.00,49.74 L325.50,47.56 L326.00,45.85 L326.50,44.47 L327.00,44.65 L327.50,46.16 L328.00,48.29 L328.50,51.40 L329.00,55.62 L329.50,59.17 L330.00,62.50 L330.50,66.03 L331.00,69.53 L331.50,75.81 L332.00,88.14 L332.50,94.45 L333.00,98.84 L333.50,105.65 L334.00,115.00 L334.50,130.37 L335.00,145.75 L335.50,158.42 L336.00,164.55 L336.50,168.63 L337.00,172.00 L337.50,175.10 L338.00,177.80 L338.50,180.39 L339.00,183.11 L339.50,185.89 L340.00,188.67 L340.50,191.45 L341.00,194.26 L341.50,197.14 L342.00,199.94 L342.50,202.52 L343.00,204.87 L343.50,207.16 L344.00,209.35 L344.50,211.38 L345.00,213.19 L345.50,214.73 L346.00,216.03 L346.50,217.24 L347.00,218.39 L347.50,219.47 L348.00,220.47 L348.50,221.40 L349.00,222.26 L349.50,223.05 L350.00,223.77 L350.50,224.42 L351.00,225.00 L351.50,225.53 L352.00,226.05 L352.50,226.54 L353.00,227.01 L353.50,227.46 L354.00,227.89 L354.50,228.29 L355.00,228.67 L355.50,229.02 L356.00,229.34 L356.50,229.64 L357.00,229.91 L357.50,230.15 L358.00,230.36 L358.50,230.53 L359.00,230.69 L359.50,230.84 L360.00,230.98 L360.50,231.11 L361.00,231.24 L361.50,231.35 L362.00,231.46 L362.50,231.57 L363.00,231.67 L363.50,231.76 L364.00,231.85 L364.50,231.94 L365.00,232.02 L365.50,232.10 L366.00,232.18 L366.50,232.26 L367.00,232.34 L367.50,232.42 L368.00,232.50 L368.50,232.58 L369.00,232.66 L369.50,232.74 L370.00,232.82 L370.50,232.90 L371.00,232.97 L371.50,233.05 L372.00,233.12 L372.50,233.19 L373.00,233.26 L373.50,233.34 L374.00,233.41 L374.50,233.47 L375.00,233.54 L375.50,233.61 L376.00,233.68 L376.50,233.74 L377.00,233.80 L377.50,233.87 L378.00,233.93 L378.50,233.99 L379.00,234.05 L379.50,234.11 L380.00,234.17 L380.50,234.23 L381.00,234.28 L381.50,234.34 L382.00,234.39 L382.50,234.45 L383.00,234.50 L383.50,234.55 L384.00,234.60 L384.50,234.65 L385.00,234.70 L385.50,234.75 L386.00,234.80 L386.50,234.84 L387.00,234.89 L387.50,234.94 L388.00,234.99 L388.50,235.03 L389.00,235.08 L389.50,235.13 L390.00,235.17 L390.50,235.22 L391.00,235.27 L391.50,235.31 L392.00,235.36 L392.50,235.40 L393.00,235.45 L393.50,235.49 L394.00,235.53 L394.50,235.58 L395.00,235.62 L395.50,235.66 L396.00,235.70 L396.50,235.74 L397.00,235.79 L397.50,235.83 L398.00,235.87 L398.50,235.91 L399.00,235.95 L399.50,235.98 L400.00,236.02 L400.50,236.06 L401.00,236.10 L401.50,236.13 L402.00,236.17 L402.50,236.21 L403.00,236.24 L403.50,236.27 L404.00,236.31 L404.50,236.34 L405.00,236.37 L405.50,236.41 L406.00,236.44 L406.50,236.47 L407.00,236.50 L407.50,236.53 L408.00,236.56 L408.50,236.58 L409.00,236.61 L409.50,236.64 L410.00,236.66 L410.50,236.69 L411.00,236.71 L411.50,236.73 L412.00,236.76" stroke="#858585" stroke-dasharray="5.3,4.8"/>
<path d="M225.00,238.99 L225.50,238.98 L226.00,238.97 L226.50,238.96 L227.00,238.95 L227.50,238.93 L228.00,238.92 L228.50,238.90 L229.00,238.89 L229.50,238.87 L230.00,238.86 L230.50,238.84 L231.00,238.82 L231.50,238.80 L232.00,238.78 L232.50,238.76 L233.00,238.74 L233.50,238.72 L234.00,238.70 L234.50,238.68 L235.00,238.66 L235.50,238.63 L236.00,238.61 L236.50,238.59 L237.00,238.56 L237.50,238.54 L238.00,238.51 L238.50,238.48 L239.00,238.46 L239.50,238.43 L240.00,238.40 L240.50,238.38 L241.00,238.35 L241.50,238.32 L242.00,238.29 L242.50,238.26 L243.00,238.23 L243.50,238.20 L244.00,238.17 L244.50,238.14 L245.00,238.11 L245.50,238.08 L246.00,238.05 L246.50,238.02 L247.00,237.99 L247.50,237.96 L248.00,237.93 L248.50,237.90 L249.00,237.86 L249.50,237.83 L250.00,237.80 L250.50,237.77 L251.00,237.73 L251.50,237.70 L252.00,237.66 L252.50,237.62 L253.00,237.59 L253.50,237.55 L254.00,237.50 L254.50,237.46 L255.00,237.42 L255.50,237.38 L256.00,237.33 L256.50,237.29 L257.00,237.24 L257.50,237.19 L258.00,237.14 L258.50,237.09 L259.00,237.05 L259.50,236.99 L260.00,236.94 L260.50,236.89 L261.00,236.84 L261.50,236.79 L262.00,236.73 L262.50,236.68 L263.00,236.62 L263.50,236.57 L264.00,236.51 L264.50,236.46 L265.00,236.40 L265.50,236.34 L266.00,236.29 L266.50,236.23 L267.00,236.17 L267.50,236.11 L268.00,236.06 L268.50,236.00 L269.00,235.93 L269.50,235.87 L270.00,235.81 L270.50,235.74 L271.00,235.67 L271.50,235.60 L272.00,235.52 L272.50,235.44 L273.00,235.36 L273.50,235.28 L274.00,235.19 L274.50,235.10 L275.00,235.00 L275.50,234.89 L276.00,234.78 L276.50,234.65 L277.00,234.51 L277.50,234.36 L278.00,234.20 L278.50,234.04 L279.00,233.87 L279.50,233.70 L280.00,233.52 L280.50,233.34 L281.00,233.16 L281.50,232.98 L282.00,232.80 L282.50,232.62 L283.00,232.43 L283.50,232.24 L284.00,232.04 L284.50,231.84 L285.00,231.63 L285.50,231.42 L286.00,231.21 L286.50,230.99 L287.00,230.76 L287.50,230.53 L288.00,230.30 L288.50,230.06 L289.00,229.83 L289.50,229.59 L290.00,229.34 L290.50,229.09 L291.00,228.82 L291.50,228.55 L292.00,228.25 L292.50,227.94 L293.00,227.60 L293.50,227.24 L294.00,226.85 L294.50,226.43 L295.00,225.98 L295.50,225.50 L296.00,224.99 L296.50,224.43 L297.00,223.85 L297.50,223.20 L298.00,222.43 L298.50,221.57 L299.00,220.66 L299.50,219.74 L300.00,218.85 L300.50,218.01 L301.00,217.17 L301.50,216.28 L302.00,215.31 L302.50,214.20 L303.00,212.76 L303.50,211.08 L304.00,209.50 L304.50,208.11 L305.00,206.76 L305.50,205.50 L306.00,204.39 L306.50,203.44 L307.00,202.54 L307.50,201.70 L308.00,200.94 L308.50,200.29 L309.00,199.77 L309.50,199.37 L310.00,199.02 L310.50,198.71 L311.00,198.43 L311.50,198.20 L312.00,198.02 L312.50,197.90 L313.00,197.81 L313.50,197.73 L314.00,197.66 L314.50,197.62 L315.00,197.60 L315.50,197.62 L316.00,197.67 L316.50,197.75 L317.00,197.83 L317.50,197.90 L318.00,197.98 L318.50,198.07 L319.00,198.16 L319.50,198.24 L320.00,198.29 L320.50,198.29 L321.00,198.17 L321.50,197.96 L322.00,197.67 L322.50,197.34 L323.00,197.00 L323.50,196.67 L324.00,196.30 L324.50,195.89 L325.00,195.45 L325.50,194.96 L326.00,194.44 L326.50,193.90 L327.00,193.27 L327.50,192.53 L328.00,191.73 L328.50,190.94 L329.00,190.21 L329.50,189.60 L330.00,189.04 L330.50,188.47 L331.00,187.94 L331.50,187.54 L332.00,187.32 L332.50,187.32 L333.00,187.45 L333.50,187.68 L334.00,187.97 L334.50,188.30 L335.00,188.75 L335.50,189.41 L336.00,190.29 L336.50,191.36 L337.00,192.99 L337.50,195.54 L338.00,198.40 L338.50,201.00 L339.00,203.52 L339.50,206.04 L340.00,208.48 L340.50,210.92 L341.00,213.27 L341.50,215.41 L342.00,217.48 L342.50,219.52 L343.00,221.43 L343.50,223.13 L344.00,224.54 L344.50,225.63 L345.00,226.62 L345.50,227.53 L346.00,228.37 L346.50,229.14 L347.00,229.83 L347.50,230.47 L348.00,231.04 L348.50,231.55 L349.00,232.00 L349.50,232.41 L350.00,232.78 L350.50,233.13 L351.00,233.45 L351.50,233.75 L352.00,234.03 L352.50,234.29 L353.00,234.54 L353.50,234.78 L354.00,235.02 L354.50,235.25 L355.00,235.48 L355.50,235.71 L356.00,235.92 L356.50,236.13 L357.00,236.33 L357.50,236.53 L358.00,236.72 L358.50,236.90 L359.00,237.07 L359.50,237.24 L360.00,237.40 L360.50,237.56 L361.00,237.71 L361.50,237.86 L362.00,238.01 L362.50,238.15 L363.00,238.28 L363.50,238.42 L364.00,238.55 L364.50,238.67 L365.00,238.80 L365.50,238.92 L366.00,239.04 L366.50,239.16 L367.00,239.27 L367.50,239.39 L368.00,239.50 L368.50,239.62 L369.00,239.74 L369.50,239.88 L370.00,240.01 L370.50,240.14 L371.00,240.27 L371.50,240.39 L372.00,240.50 L372.50,240.60 L373.00,240.68 L373.50,240.75 L374.00,240.79 L374.50,240.80 L375.00,240.60 L375.50,240.40 L376.00,240.61 L376.50,241.05 L377.00,241.40 L377.50,241.60 L378.00,241.79 L378.50,241.97 L379.00,242.15 L379.50,242.32 L380.00,242.48 L380.50,242.63 L381.00,242.77 L381.50,242.91 L382.00,243.05 L382.50,243.17 L383.00,243.29 L383.50,243.41 L384.00,243.52 L384.50,243.63 L385.00,243.73 L385.50,243.83 L386.00,243.93 L386.50,244.02 L387.00,244.11 L387.50,244.19 L388.00,244.28 L388.50,244.36 L389.00,244.44 L389.50,244.52 L390.00,244.60 L390.50,244.68 L391.00,244.76 L391.50,244.83 L392.00,244.91 L392.50,244.99 L393.00,245.06 L393.50,245.14 L394.00,245.22 L394.50,245.29 L395.00,245.36 L395.50,245.44 L396.00,245.51 L396.50,245.58 L397.00,245.65 L397.50,245.72 L398.00,245.79 L398.50,245.86 L399.00,245.93 L399.50,245.99 L400.00,246.06 L400.50,246.12 L401.00,246.18 L401.50,246.24 L402.00,246.30 L402.50,246.36 L403.00,246.41 L403.50,246.46 L404.00,246.52 L404.50,246.57 L405.00,246.62 L405.50,246.66 L406.00,246.71 L406.50,246.75 L407.00,246.79 L407.50,246.83 L408.00,246.87 L408.50,246.90 L409.00,246.93 L409.50,246.96 L410.00,246.99 L410.50,247.01 L411.00,247.04 L411.50,247.06 L412.00,247.07" stroke="#2c2a6a"/>
<path d="M225.00,238.29 L225.50,238.28 L226.00,238.26 L226.50,238.25 L227.00,238.24 L227.50,238.22 L228.00,238.21 L228.50,238.19 L229.00,238.17 L229.50,238.16 L230.00,238.14 L230.50,238.12 L231.00,238.10 L231.50,238.08 L232.00,238.06 L232.50,238.04 L233.00,238.02 L233.50,238.00 L234.00,237.98 L234.50,237.96 L235.00,237.94 L235.50,237.91 L236.00,237.89 L236.50,237.87 L237.00,237.84 L237.50,237.82 L238.00,237.79 L238.50,237.77 L239.00,237.74 L239.50,237.71 L240.00,237.69 L240.50,237.66 L241.00,237.63 L241.50,237.61 L242.00,237.58 L242.50,237.55 L243.00,237.52 L243.50,237.49 L244.00,237.46 L244.50,237.43 L245.00,237.41 L245.50,237.38 L246.00,237.35 L246.50,237.32 L247.00,237.29 L247.50,237.25 L248.00,237.22 L248.50,237.19 L249.00,237.16 L249.50,237.13 L250.00,237.10 L250.50,237.07 L251.00,237.04 L251.50,237.00 L252.00,236.97 L252.50,236.94 L253.00,236.90 L253.50,236.87 L254.00,236.83 L254.50,236.79 L255.00,236.76 L255.50,236.72 L256.00,236.68 L256.50,236.64 L257.00,236.60 L257.50,236.56 L258.00,236.51 L258.50,236.47 L259.00,236.43 L259.50,236.38 L260.00,236.33 L260.50,236.29 L261.00,236.24 L261.50,236.19 L262.00,236.14 L262.50,236.08 L263.00,236.03 L263.50,235.97 L264.00,235.92 L264.50,235.86 L265.00,235.80 L265.50,235.74 L266.00,235.67 L266.50,235.61 L267.00,235.54 L267.50,235.46 L268.00,235.38 L268.50,235.30 L269.00,235.22 L269.50,235.14 L270.00,235.05 L270.50,234.95 L271.00,234.86 L271.50,234.76 L272.00,234.66 L272.50,234.56 L273.00,234.45 L273.50,234.34 L274.00,234.23 L274.50,234.12 L275.00,234.00 L275.50,233.88 L276.00,233.74 L276.50,233.60 L277.00,233.45 L277.50,233.30 L278.00,233.13 L278.50,232.97 L279.00,232.79 L279.50,232.62 L280.00,232.44 L280.50,232.25 L281.00,232.07 L281.50,231.88 L282.00,231.70 L282.50,231.51 L283.00,231.33 L283.50,231.13 L284.00,230.94 L284.50,230.74 L285.00,230.53 L285.50,230.32 L286.00,230.11 L286.50,229.89 L287.00,229.67 L287.50,229.44 L288.00,229.20 L288.50,228.96 L289.00,228.72 L289.50,228.47 L290.00,228.22 L290.50,227.96 L291.00,227.68 L291.50,227.39 L292.00,227.08 L292.50,226.75 L293.00,226.40 L293.50,226.02 L294.00,225.59 L294.50,225.14 L295.00,224.64 L295.50,224.11 L296.00,223.54 L296.50,222.94 L297.00,222.30 L297.50,221.57 L298.00,220.73 L298.50,219.82 L299.00,218.88 L299.50,217.96 L300.00,217.09 L300.50,216.28 L301.00,215.49 L301.50,214.64 L302.00,213.70 L302.50,212.60 L303.00,211.17 L303.50,209.43 L304.00,207.60 L304.50,205.65 L305.00,203.60 L305.50,201.80 L306.00,200.27 L306.50,198.85 L307.00,197.61 L307.50,196.60 L308.00,195.77 L308.50,195.01 L309.00,194.32 L309.50,193.72 L310.00,193.20 L310.50,192.77 L311.00,192.42 L311.50,192.09 L312.00,191.79 L312.50,191.54 L313.00,191.34 L313.50,191.20 L314.00,191.09 L314.50,190.99 L315.00,190.91 L315.50,190.84 L316.00,190.81 L316.50,190.80 L317.00,190.82 L317.50,190.86 L318.00,190.90 L318.50,190.95 L319.00,191.00 L319.50,191.06 L320.00,191.12 L320.50,191.18 L321.00,191.20 L321.50,191.15 L322.00,191.01 L322.50,190.80 L323.00,190.55 L323.50,190.26 L324.00,189.96 L324.50,189.62 L325.00,189.18 L325.50,188.67 L326.00,188.13 L326.50,187.60 L327.00,187.05 L327.50,186.45 L328.00,185.83 L328.50,185.24 L329.00,184.72 L329.50,184.30 L330.00,183.94 L330.50,183.58 L331.00,183.25 L331.50,182.96 L332.00,182.75 L332.50,182.62 L333.00,182.61 L333.50,182.75 L334.00,183.02 L334.50,183.37 L335.00,183.80 L335.50,184.50 L336.00,185.59 L336.50,186.92 L337.00,188.57 L337.50,190.73 L338.00,193.00 L338.50,195.23 L339.00,197.56 L339.50,200.00 L340.00,202.62 L340.50,205.37 L341.00,208.10 L341.50,210.98 L342.00,213.67 L342.50,215.78 L343.00,217.64 L343.50,219.35 L344.00,220.91 L344.50,222.29 L345.00,223.49 L345.50,224.50 L346.00,225.36 L346.50,226.14 L347.00,226.85 L347.50,227.48 L348.00,228.05 L348.50,228.56 L349.00,229.00 L349.50,229.40 L350.00,229.79 L350.50,230.15 L351.00,230.49 L351.50,230.80 L352.00,231.10 L352.50,231.37 L353.00,231.63 L353.50,231.86 L354.00,232.07 L354.50,232.26 L355.00,232.44 L355.50,232.61 L356.00,232.78 L356.50,232.94 L357.00,233.09 L357.50,233.24 L358.00,233.39 L358.50,233.52 L359.00,233.66 L359.50,233.78 L360.00,233.90 L360.50,234.02 L361.00,234.13 L361.50,234.23 L362.00,234.33 L362.50,234.42 L363.00,234.51 L363.50,234.59 L364.00,234.67 L364.50,234.74 L365.00,234.80 L365.50,234.86 L366.00,234.92 L366.50,234.97 L367.00,235.03 L367.50,235.08 L368.00,235.13 L368.50,235.18 L369.00,235.23 L369.50,235.28 L370.00,235.32 L370.50,235.36 L371.00,235.41 L371.50,235.45 L372.00,235.49 L372.50,235.53 L373.00,235.56 L373.50,235.60 L374.00,235.64 L374.50,235.67 L375.00,235.71 L375.50,235.74 L376.00,235.77 L376.50,235.81 L377.00,235.84 L377.50,235.87 L378.00,235.90 L378.50,235.93 L379.00,235.96 L379.50,235.99 L380.00,236.02 L380.50,236.04 L381.00,236.07 L381.50,236.10 L382.00,236.13 L382.50,236.16 L383.00,236.19 L383.50,236.21 L384.00,236.24 L384.50,236.27 L385.00,236.30 L385.50,236.33 L386.00,236.36 L386.50,236.39 L387.00,236.42 L387.50,236.44 L388.00,236.47 L388.50,236.50 L389.00,236.53 L389.50,236.56 L390.00,236.58 L390.50,236.61 L391.00,236.64 L391.50,236.67 L392.00,236.69 L392.50,236.72 L393.00,236.75 L393.50,236.77 L394.00,236.80 L394.50,236.83 L395.00,236.85 L395.50,236.88 L396.00,236.90 L396.50,236.93 L397.00,236.95 L397.50,236.98 L398.00,237.00 L398.50,237.03 L399.00,237.05 L399.50,237.07 L400.00,237.10 L400.50,237.12 L401.00,237.14 L401.50,237.17 L402.00,237.19 L402.50,237.21 L403.00,237.23 L403.50,237.25 L404.00,237.27 L404.50,237.30 L405.00,237.32 L405.50,237.34 L406.00,237.36 L406.50,237.38 L407.00,237.39 L407.50,237.41 L408.00,237.43 L408.50,237.45 L409.00,237.47 L409.50,237.49 L410.00,237.50 L410.50,237.52 L411.00,237.54 L411.50,237.55 L412.00,237.57" stroke="#5c3a9c"/>
<path d="M225.00,237.79 L225.50,237.77 L226.00,237.76 L226.50,237.74 L227.00,237.72 L227.50,237.70 L228.00,237.69 L228.50,237.67 L229.00,237.65 L229.50,237.62 L230.00,237.60 L230.50,237.58 L231.00,237.56 L231.50,237.53 L232.00,237.51 L232.50,237.48 L233.00,237.46 L233.50,237.43 L234.00,237.40 L234.50,237.38 L235.00,237.35 L235.50,237.32 L236.00,237.29 L236.50,237.26 L237.00,237.23 L237.50,237.20 L238.00,237.17 L238.50,237.14 L239.00,237.11 L239.50,237.07 L240.00,237.04 L240.50,237.01 L241.00,236.98 L241.50,236.94 L242.00,236.91 L242.50,236.87 L243.00,236.84 L243.50,236.81 L244.00,236.77 L244.50,236.74 L245.00,236.70 L245.50,236.66 L246.00,236.63 L246.50,236.59 L247.00,236.55 L247.50,236.51 L248.00,236.46 L248.50,236.42 L249.00,236.38 L249.50,236.33 L250.00,236.28 L250.50,236.24 L251.00,236.19 L251.50,236.14 L252.00,236.09 L252.50,236.04 L253.00,235.99 L253.50,235.93 L254.00,235.88 L254.50,235.83 L255.00,235.77 L255.50,235.72 L256.00,235.66 L256.50,235.61 L257.00,235.55 L257.50,235.49 L258.00,235.43 L258.50,235.38 L259.00,235.32 L259.50,235.26 L260.00,235.20 L260.50,235.14 L261.00,235.08 L261.50,235.02 L262.00,234.96 L262.50,234.89 L263.00,234.83 L263.50,234.76 L264.00,234.70 L264.50,234.63 L265.00,234.56 L265.50,234.49 L266.00,234.42 L266.50,234.35 L267.00,234.27 L267.50,234.20 L268.00,234.12 L268.50,234.04 L269.00,233.96 L269.50,233.88 L270.00,233.80 L270.50,233.72 L271.00,233.63 L271.50,233.54 L272.00,233.44 L272.50,233.35 L273.00,233.25 L273.50,233.15 L274.00,233.05 L274.50,232.94 L275.00,232.83 L275.50,232.72 L276.00,232.60 L276.50,232.48 L277.00,232.36 L277.50,232.23 L278.00,232.11 L278.50,231.97 L279.00,231.83 L279.50,231.68 L280.00,231.53 L280.50,231.37 L281.00,231.20 L281.50,231.02 L282.00,230.82 L282.50,230.60 L283.00,230.37 L283.50,230.14 L284.00,229.89 L284.50,229.65 L285.00,229.40 L285.50,229.15 L286.00,228.90 L286.50,228.65 L287.00,228.38 L287.50,228.10 L288.00,227.81 L288.50,227.50 L289.00,227.17 L289.50,226.81 L290.00,226.43 L290.50,226.03 L291.00,225.62 L291.50,225.20 L292.00,224.76 L292.50,224.31 L293.00,223.84 L293.50,223.35 L294.00,222.83 L294.50,222.30 L295.00,221.75 L295.50,221.17 L296.00,220.57 L296.50,219.93 L297.00,219.24 L297.50,218.49 L298.00,217.63 L298.50,216.69 L299.00,215.71 L299.50,214.70 L300.00,213.70 L300.50,212.69 L301.00,211.63 L301.50,210.49 L302.00,209.21 L302.50,207.78 L303.00,206.24 L303.50,204.69 L304.00,203.11 L304.50,201.48 L305.00,199.83 L305.50,198.20 L306.00,196.61 L306.50,194.92 L307.00,193.00 L307.50,190.32 L308.00,188.22 L308.50,187.03 L309.00,186.10 L309.50,185.33 L310.00,184.60 L310.50,183.89 L311.00,183.24 L311.50,182.65 L312.00,182.10 L312.50,181.59 L313.00,181.10 L313.50,180.65 L314.00,180.22 L314.50,179.83 L315.00,179.45 L315.50,179.07 L316.00,178.70 L316.50,178.36 L317.00,178.07 L317.50,177.86 L318.00,177.73 L318.50,177.65 L319.00,177.59 L319.50,177.53 L320.00,177.46 L320.50,177.36 L321.00,177.24 L321.50,177.10 L322.00,176.94 L322.50,176.77 L323.00,176.57 L323.50,176.35 L324.00,176.07 L324.50,175.72 L325.00,175.33 L325.50,174.93 L326.00,174.54 L326.50,174.18 L327.00,173.88 L327.50,173.59 L328.00,173.30 L328.50,173.04 L329.00,172.83 L329.50,172.70 L330.00,172.61 L330.50,172.54 L331.00,172.47 L331.50,172.43 L332.00,172.40 L332.50,172.44 L333.00,172.68 L333.50,173.08 L334.00,173.61 L334.50,174.20 L335.00,175.04 L335.50,176.28 L336.00,177.82 L336.50,179.75 L337.00,182.46 L337.50,185.43 L338.00,188.31 L338.50,191.31 L339.00,194.29 L339.50,197.11 L340.00,199.86 L340.50,202.51 L341.00,205.00 L341.50,207.42 L342.00,209.81 L342.50,212.04 L343.00,214.00 L343.50,215.60 L344.00,217.05 L344.50,218.39 L345.00,219.64 L345.50,220.78 L346.00,221.82 L346.50,222.75 L347.00,223.57 L347.50,224.27 L348.00,224.92 L348.50,225.52 L349.00,226.08 L349.50,226.60 L350.00,227.07 L350.50,227.51 L351.00,227.91 L351.50,228.27 L352.00,228.60 L352.50,228.91 L353.00,229.20 L353.50,229.47 L354.00,229.73 L354.50,229.98 L355.00,230.21 L355.50,230.43 L356.00,230.63 L356.50,230.82 L357.00,230.99 L357.50,231.15 L358.00,231.30 L358.50,231.43 L359.00,231.56 L359.50,231.69 L360.00,231.80 L360.50,231.91 L361.00,232.02 L361.50,232.12 L362.00,232.22 L362.50,232.31 L363.00,232.41 L363.50,232.49 L364.00,232.58 L364.50,232.66 L365.00,232.74 L365.50,232.82 L366.00,232.90 L366.50,232.97 L367.00,233.05 L367.50,233.12 L368.00,233.20 L368.50,233.28 L369.00,233.35 L369.50,233.43 L370.00,233.50 L370.50,233.57 L371.00,233.64 L371.50,233.71 L372.00,233.78 L372.50,233.85 L373.00,233.92 L373.50,233.99 L374.00,234.06 L374.50,234.12 L375.00,234.19 L375.50,234.25 L376.00,234.32 L376.50,234.38 L377.00,234.44 L377.50,234.50 L378.00,234.56 L378.50,234.62 L379.00,234.68 L379.50,234.73 L380.00,234.79 L380.50,234.84 L381.00,234.90 L381.50,234.95 L382.00,235.01 L382.50,235.06 L383.00,235.11 L383.50,235.16 L384.00,235.21 L384.50,235.25 L385.00,235.30 L385.50,235.35 L386.00,235.39 L386.50,235.44 L387.00,235.48 L387.50,235.53 L388.00,235.57 L388.50,235.62 L389.00,235.66 L389.50,235.71 L390.00,235.75 L390.50,235.80 L391.00,235.84 L391.50,235.88 L392.00,235.93 L392.50,235.97 L393.00,236.01 L393.50,236.05 L394.00,236.09 L394.50,236.14 L395.00,236.18 L395.50,236.22 L396.00,236.26 L396.50,236.30 L397.00,236.34 L397.50,236.37 L398.00,236.41 L398.50,236.45 L399.00,236.49 L399.50,236.52 L400.00,236.56 L400.50,236.60 L401.00,236.63 L401.50,236.67 L402.00,236.70 L402.50,236.73 L403.00,236.77 L403.50,236.80 L404.00,236.83 L404.50,236.86 L405.00,236.90 L405.50,236.93 L406.00,236.96 L406.50,236.98 L407.00,237.01 L407.50,237.04 L408.00,237.07 L408.50,237.09 L409.00,237.12 L409.50,237.14 L410.00,237.17 L410.50,237.19 L411.00,237.22 L411.50,237.24 L412.00,237.26" stroke="#864e96"/>
<path d="M225.00,237.79 L225.50,237.77 L226.00,237.76 L226.50,237.74 L227.00,237.72 L227.50,237.70 L228.00,237.69 L228.50,237.67 L229.00,237.65 L229.50,237.62 L230.00,237.60 L230.50,237.58 L231.00,237.56 L231.50,237.53 L232.00,237.51 L232.50,237.48 L233.00,237.46 L233.50,237.43 L234.00,237.40 L234.50,237.38 L235.00,237.35 L235.50,237.32 L236.00,237.29 L236.50,237.26 L237.00,237.23 L237.50,237.20 L238.00,237.17 L238.50,237.14 L239.00,237.11 L239.50,237.07 L240.00,237.04 L240.50,237.01 L241.00,236.98 L241.50,236.94 L242.00,236.91 L242.50,236.87 L243.00,236.84 L243.50,236.81 L244.00,236.77 L244.50,236.74 L245.00,236.70 L245.50,236.66 L246.00,236.63 L246.50,236.59 L247.00,236.55 L247.50,236.51 L248.00,236.46 L248.50,236.42 L249.00,236.38 L249.50,236.33 L250.00,236.28 L250.50,236.24 L251.00,236.19 L251.50,236.14 L252.00,236.09 L252.50,236.04 L253.00,235.99 L253.50,235.93 L254.00,235.88 L254.50,235.83 L255.00,235.77 L255.50,235.72 L256.00,235.66 L256.50,235.61 L257.00,235.55 L257.50,235.49 L258.00,235.43 L258.50,235.38 L259.00,235.32 L259.50,235.26 L260.00,235.20 L260.50,235.14 L261.00,235.08 L261.50,235.02 L262.00,234.96 L262.50,234.89 L263.00,234.83 L263.50,234.76 L264.00,234.70 L264.50,234.63 L265.00,234.56 L265.50,234.49 L266.00,234.42 L266.50,234.35 L267.00,234.27 L267.50,234.20 L268.00,234.12 L268.50,234.04 L269.00,233.96 L269.50,233.88 L270.00,233.80 L270.50,233.72 L271.00,233.63 L271.50,233.54 L272.00,233.44 L272.50,233.35 L273.00,233.25 L273.50,233.15 L274.00,233.05 L274.50,232.94 L275.00,232.83 L275.50,232.72 L276.00,232.60 L276.50,232.48 L277.00,232.36 L277.50,232.23 L278.00,232.11 L278.50,231.97 L279.00,231.83 L279.50,231.68 L280.00,231.53 L280.50,231.37 L281.00,231.20 L281.50,231.02 L282.00,230.82 L282.50,230.60 L283.00,230.37 L283.50,230.14 L284.00,229.89 L284.50,229.65 L285.00,229.40 L285.50,229.15 L286.00,228.90 L286.50,228.65 L287.00,228.38 L287.50,228.10 L288.00,227.81 L288.50,227.50 L289.00,227.17 L289.50,226.81 L290.00,226.43 L290.50,226.03 L291.00,225.62 L291.50,225.20 L292.00,224.76 L292.50,224.31 L293.00,223.84 L293.50,223.35 L294.00,222.83 L294.50,222.30 L295.00,221.75 L295.50,221.17 L296.00,220.57 L296.50,219.93 L297.00,219.24 L297.50,218.49 L298.00,217.63 L298.50,216.69 L299.00,215.71 L299.50,214.70 L300.00,213.70 L300.50,212.69 L301.00,211.63 L301.50,210.49 L302.00,209.21 L302.50,207.78 L303.00,206.24 L303.50,204.69 L304.00,203.11 L304.50,201.48 L305.00,199.83 L305.50,198.15 L306.00,196.43 L306.50,194.70 L307.00,193.00 L307.50,191.35 L308.00,189.73 L308.50,188.12 L309.00,186.50 L309.50,184.82 L310.00,183.09 L310.50,181.38 L311.00,179.75 L311.50,178.27 L312.00,176.95 L312.50,175.70 L313.00,174.52 L313.50,173.42 L314.00,172.41 L314.50,171.50 L315.00,170.68 L315.50,169.92 L316.00,169.22 L316.50,168.57 L317.00,167.96 L317.50,167.39 L318.00,166.84 L318.50,166.32 L319.00,165.84 L319.50,165.40 L320.00,165.00 L320.50,164.66 L321.00,164.35 L321.50,164.07 L322.00,163.78 L322.50,163.47 L323.00,163.14 L323.50,162.80 L324.00,162.45 L324.50,162.13 L325.00,161.84 L325.50,161.60 L326.00,161.38 L326.50,161.17 L327.00,160.96 L327.50,160.78 L328.00,160.63 L328.50,160.54 L329.00,160.50 L329.50,160.58 L330.00,160.81 L330.50,161.15 L331.00,161.57 L331.50,162.02 L332.00,162.50 L332.50,163.11 L333.00,163.87 L333.50,164.74 L334.00,165.70 L334.50,166.77 L335.00,168.02 L335.50,169.49 L336.00,171.27 L336.50,173.66 L337.00,176.43 L337.50,179.49 L338.00,182.96 L338.50,186.37 L339.00,189.47 L339.50,192.49 L340.00,195.35 L340.50,198.00 L341.00,200.42 L341.50,202.67 L342.00,204.78 L342.50,206.80 L343.00,208.80 L343.50,210.73 L344.00,212.54 L344.50,214.15 L345.00,215.53 L345.50,216.82 L346.00,218.05 L346.50,219.22 L347.00,220.32 L347.50,221.34 L348.00,222.27 L348.50,223.12 L349.00,223.86 L349.50,224.50 L350.00,225.07 L350.50,225.61 L351.00,226.13 L351.50,226.62 L352.00,227.08 L352.50,227.51 L353.00,227.92 L353.50,228.30 L354.00,228.65 L354.50,228.98 L355.00,229.28 L355.50,229.55 L356.00,229.79 L356.50,230.00 L357.00,230.19 L357.50,230.38 L358.00,230.56 L358.50,230.73 L359.00,230.89 L359.50,231.04 L360.00,231.19 L360.50,231.33 L361.00,231.46 L361.50,231.59 L362.00,231.71 L362.50,231.83 L363.00,231.94 L363.50,232.05 L364.00,232.16 L364.50,232.26 L365.00,232.36 L365.50,232.45 L366.00,232.54 L366.50,232.63 L367.00,232.72 L367.50,232.81 L368.00,232.90 L368.50,232.99 L369.00,233.07 L369.50,233.15 L370.00,233.24 L370.50,233.32 L371.00,233.39 L371.50,233.47 L372.00,233.55 L372.50,233.62 L373.00,233.69 L373.50,233.76 L374.00,233.83 L374.50,233.90 L375.00,233.97 L375.50,234.04 L376.00,234.10 L376.50,234.16 L377.00,234.23 L377.50,234.29 L378.00,234.35 L378.50,234.41 L379.00,234.47 L379.50,234.52 L380.00,234.58 L380.50,234.64 L381.00,234.69 L381.50,234.74 L382.00,234.80 L382.50,234.85 L383.00,234.90 L383.50,234.95 L384.00,235.00 L384.50,235.05 L385.00,235.10 L385.50,235.15 L386.00,235.20 L386.50,235.24 L387.00,235.29 L387.50,235.34 L388.00,235.39 L388.50,235.43 L389.00,235.48 L389.50,235.53 L390.00,235.57 L390.50,235.62 L391.00,235.67 L391.50,235.71 L392.00,235.76 L392.50,235.80 L393.00,235.85 L393.50,235.89 L394.00,235.93 L394.50,235.98 L395.00,236.02 L395.50,236.06 L396.00,236.10 L396.50,236.14 L397.00,236.19 L397.50,236.23 L398.00,236.27 L398.50,236.31 L399.00,236.35 L399.50,236.38 L400.00,236.42 L400.50,236.46 L401.00,236.50 L401.50,236.53 L402.00,236.57 L402.50,236.61 L403.00,236.64 L403.50,236.67 L404.00,236.71 L404.50,236.74 L405.00,236.77 L405.50,236.81 L406.00,236.84 L406.50,236.87 L407.00,236.90 L407.50,236.93 L408.00,236.96 L408.50,236.98 L409.00,237.01 L409.50,237.04 L410.00,237.06 L410.50,237.09 L411.00,237.11 L411.50,237.13 L412.00,237.16" stroke="#a8688c"/>
<path d="M225.00,237.79 L225.50,237.77 L226.00,237.76 L226.50,237.74 L227.00,237.72 L227.50,237.70 L228.00,237.69 L228.50,237.67 L229.00,237.65 L229.50,237.62 L230.00,237.60 L230.50,237.58 L231.00,237.56 L231.50,237.53 L232.00,237.51 L232.50,237.48 L233.00,237.46 L233.50,237.43 L234.00,237.40 L234.50,237.38 L235.00,237.35 L235.50,237.32 L236.00,237.29 L236.50,237.26 L237.00,237.23 L237.50,237.20 L238.00,237.17 L238.50,237.14 L239.00,237.11 L239.50,237.07 L240.00,237.04 L240.50,237.01 L241.00,236.98 L241.50,236.94 L242.00,236.91 L242.50,236.87 L243.00,236.84 L243.50,236.81 L244.00,236.77 L244.50,236.74 L245.00,236.70 L245.50,236.66 L246.00,236.63 L246.50,236.59 L247.00,236.55 L247.50,236.51 L248.00,236.46 L248.50,236.42 L249.00,236.38 L249.50,236.33 L250.00,236.28 L250.50,236.24 L251.00,236.19 L251.50,236.14 L252.00,236.09 L252.50,236.04 L253.00,235.99 L253.50,235.93 L254.00,235.88 L254.50,235.83 L255.00,235.77 L255.50,235.72 L256.00,235.66 L256.50,235.61 L257.00,235.55 L257.50,235.49 L258.00,235.43 L258.50,235.38 L259.00,235.32 L259.50,235.26 L260.00,235.20 L260.50,235.14 L261.00,235.08 L261.50,235.02 L262.00,234.96 L262.50,234.89 L263.00,234.83 L263.50,234.76 L264.00,234.70 L264.50,234.63 L265.00,234.56 L265.50,234.49 L266.00,234.42 L266.50,234.35 L267.00,234.27 L267.50,234.20 L268.00,234.12 L268.50,234.04 L269.00,233.96 L269.50,233.88 L270.00,233.80 L270.50,233.72 L271.00,233.63 L271.50,233.54 L272.00,233.44 L272.50,233.35 L273.00,233.25 L273.50,233.15 L274.00,233.05 L274.50,232.94 L275.00,232.83 L275.50,232.72 L276.00,232.60 L276.50,232.48 L277.00,232.36 L277.50,232.23 L278.00,232.11 L278.50,231.97 L279.00,231.83 L279.50,231.68 L280.00,231.53 L280.50,231.37 L281.00,231.20 L281.50,231.02 L282.00,230.82 L282.50,230.60 L283.00,230.37 L283.50,230.14 L284.00,229.89 L284.50,229.65 L285.00,229.40 L285.50,229.15 L286.00,228.90 L286.50,228.65 L287.00,228.38 L287.50,228.10 L288.00,227.81 L288.50,227.50 L289.00,227.17 L289.50,226.81 L290.00,226.43 L290.50,226.03 L291.00,225.62 L291.50,225.20 L292.00,224.76 L292.50,224.31 L293.00,223.84 L293.50,223.35 L294.00,222.83 L294.50,222.30 L295.00,221.75 L295.50,221.17 L296.00,220.57 L296.50,219.93 L297.00,219.24 L297.50,218.49 L298.00,217.63 L298.50,216.69 L299.00,215.71 L299.50,214.70 L300.00,213.70 L300.50,212.69 L301.00,211.63 L301.50,210.49 L302.00,209.21 L302.50,207.78 L303.00,206.24 L303.50,204.69 L304.00,203.11 L304.50,201.48 L305.00,199.83 L305.50,198.15 L306.00,196.43 L306.50,194.70 L307.00,193.00 L307.50,191.34 L308.00,189.70 L308.50,188.08 L309.00,186.50 L309.50,184.91 L310.00,183.31 L310.50,181.71 L311.00,180.15 L311.50,178.66 L312.00,177.27 L312.50,176.00 L313.00,174.88 L313.50,173.86 L314.00,172.91 L314.50,171.98 L315.00,171.03 L315.50,170.00 L316.00,168.92 L316.50,167.82 L317.00,166.70 L317.50,165.53 L318.00,164.31 L318.50,163.03 L319.00,161.66 L319.50,160.14 L320.00,158.51 L320.50,156.83 L321.00,155.15 L321.50,153.52 L322.00,152.00 L322.50,150.51 L323.00,148.98 L323.50,147.50 L324.00,146.12 L324.50,144.93 L325.00,144.00 L325.50,143.22 L326.00,142.45 L326.50,141.75 L327.00,141.17 L327.50,140.74 L328.00,140.52 L328.50,140.54 L329.00,140.78 L329.50,141.21 L330.00,141.81 L330.50,142.55 L331.00,143.43 L331.50,144.51 L332.00,146.61 L332.50,149.56 L333.00,152.95 L333.50,156.46 L334.00,160.75 L334.50,165.00 L335.00,168.78 L335.50,172.38 L336.00,175.74 L336.50,178.81 L337.00,181.66 L337.50,184.35 L338.00,186.95 L338.50,189.49 L339.00,192.03 L339.50,194.55 L340.00,197.00 L340.50,199.35 L341.00,201.57 L341.50,203.69 L342.00,205.80 L342.50,207.86 L343.00,209.83 L343.50,211.66 L344.00,213.31 L344.50,214.74 L345.00,215.98 L345.50,217.16 L346.00,218.28 L346.50,219.33 L347.00,220.32 L347.50,221.25 L348.00,222.11 L348.50,222.91 L349.00,223.64 L349.50,224.30 L350.00,224.89 L350.50,225.43 L351.00,225.94 L351.50,226.44 L352.00,226.92 L352.50,227.38 L353.00,227.81 L353.50,228.22 L354.00,228.61 L354.50,228.97 L355.00,229.31 L355.50,229.62 L356.00,229.90 L356.50,230.15 L357.00,230.37 L357.50,230.57 L358.00,230.73 L358.50,230.89 L359.00,231.04 L359.50,231.18 L360.00,231.31 L360.50,231.43 L361.00,231.55 L361.50,231.66 L362.00,231.77 L362.50,231.87 L363.00,231.97 L363.50,232.06 L364.00,232.15 L364.50,232.23 L365.00,232.32 L365.50,232.40 L366.00,232.48 L366.50,232.56 L367.00,232.64 L367.50,232.72 L368.00,232.80 L368.50,232.88 L369.00,232.96 L369.50,233.04 L370.00,233.12 L370.50,233.20 L371.00,233.27 L371.50,233.35 L372.00,233.42 L372.50,233.49 L373.00,233.57 L373.50,233.64 L374.00,233.71 L374.50,233.78 L375.00,233.84 L375.50,233.91 L376.00,233.98 L376.50,234.04 L377.00,234.11 L377.50,234.17 L378.00,234.23 L378.50,234.29 L379.00,234.35 L379.50,234.41 L380.00,234.47 L380.50,234.53 L381.00,234.58 L381.50,234.64 L382.00,234.69 L382.50,234.75 L383.00,234.80 L383.50,234.85 L384.00,234.90 L384.50,234.95 L385.00,235.00 L385.50,235.05 L386.00,235.10 L386.50,235.14 L387.00,235.19 L387.50,235.24 L388.00,235.29 L388.50,235.33 L389.00,235.38 L389.50,235.43 L390.00,235.47 L390.50,235.52 L391.00,235.57 L391.50,235.61 L392.00,235.66 L392.50,235.70 L393.00,235.75 L393.50,235.79 L394.00,235.83 L394.50,235.88 L395.00,235.92 L395.50,235.96 L396.00,236.00 L396.50,236.04 L397.00,236.09 L397.50,236.13 L398.00,236.17 L398.50,236.21 L399.00,236.25 L399.50,236.28 L400.00,236.32 L400.50,236.36 L401.00,236.40 L401.50,236.43 L402.00,236.47 L402.50,236.51 L403.00,236.54 L403.50,236.57 L404.00,236.61 L404.50,236.64 L405.00,236.67 L405.50,236.71 L406.00,236.74 L406.50,236.77 L407.00,236.80 L407.50,236.83 L408.00,236.86 L408.50,236.88 L409.00,236.91 L409.50,236.94 L410.00,236.96 L410.50,236.99 L411.00,237.01 L411.50,237.03 L412.00,237.06" stroke="#c08a74"/>
<path d="M225.00,237.79 L225.50,237.77 L226.00,237.76 L226.50,237.74 L227.00,237.72 L227.50,237.70 L228.00,237.69 L228.50,237.67 L229.00,237.65 L229.50,237.62 L230.00,237.60 L230.50,237.58 L231.00,237.56 L231.50,237.53 L232.00,237.51 L232.50,237.48 L233.00,237.46 L233.50,237.43 L234.00,237.40 L234.50,237.38 L235.00,237.35 L235.50,237.32 L236.00,237.29 L236.50,237.26 L237.00,237.23 L237.50,237.20 L238.00,237.17 L238.50,237.14 L239.00,237.11 L239.50,237.07 L240.00,237.04 L240.50,237.01 L241.00,236.98 L241.50,236.94 L242.00,236.91 L242.50,236.87 L243.00,236.84 L243.50,236.81 L244.00,236.77 L244.50,236.74 L245.00,236.70 L245.50,236.66 L246.00,236.63 L246.50,236.59 L247.00,236.55 L247.50,236.51 L248.00,236.46 L248.50,236.42 L249.00,236.38 L249.50,236.33 L250.00,236.28 L250.50,236.24 L251.00,236.19 L251.50,236.14 L252.00,236.09 L252.50,236.04 L253.00,235.99 L253.50,235.93 L254.00,235.88 L254.50,235.83 L255.00,235.77 L255.50,235.72 L256.00,235.66 L256.50,235.61 L257.00,235.55 L257.50,235.49 L258.00,235.43 L258.50,235.38 L259.00,235.32 L259.50,235.26 L260.00,235.20 L260.50,235.14 L261.00,235.08 L261.50,235.02 L262.00,234.96 L262.50,234.89 L263.00,234.83 L263.50,234.76 L264.00,234.70 L264.50,234.63 L265.00,234.56 L265.50,234.49 L266.00,234.42 L266.50,234.35 L267.00,234.27 L267.50,234.20 L268.00,234.12 L268.50,234.04 L269.00,233.96 L269.50,233.88 L270.00,233.80 L270.50,233.72 L271.00,233.63 L271.50,233.54 L272.00,233.44 L272.50,233.35 L273.00,233.25 L273.50,233.15 L274.00,233.05 L274.50,232.94 L275.00,232.83 L275.50,232.72 L276.00,232.60 L276.50,232.48 L277.00,232.36 L277.50,232.23 L278.00,232.11 L278.50,231.97 L279.00,231.83 L279.50,231.68 L280.00,231.53 L280.50,231.37 L281.00,231.20 L281.50,231.02 L282.00,230.82 L282.50,230.60 L283.00,230.37 L283.50,230.14 L284.00,229.89 L284.50,229.65 L285.00,229.40 L285.50,229.15 L286.00,228.90 L286.50,228.65 L287.00,228.38 L287.50,228.10 L288.00,227.81 L288.50,227.50 L289.00,227.17 L289.50,226.81 L290.00,226.43 L290.50,226.03 L291.00,225.62 L291.50,225.20 L292.00,224.76 L292.50,224.31 L293.00,223.84 L293.50,223.35 L294.00,222.83 L294.50,222.30 L295.00,221.75 L295.50,221.17 L296.00,220.57 L296.50,219.93 L297.00,219.24 L297.50,218.49 L298.00,217.63 L298.50,216.69 L299.00,215.71 L299.50,214.70 L300.00,213.70 L300.50,212.69 L301.00,211.63 L301.50,210.49 L302.00,209.21 L302.50,207.78 L303.00,206.24 L303.50,204.69 L304.00,203.11 L304.50,201.48 L305.00,199.83 L305.50,198.15 L306.00,196.43 L306.50,194.70 L307.00,193.00 L307.50,191.37 L308.00,189.77 L308.50,188.17 L309.00,186.50 L309.50,184.75 L310.00,182.95 L310.50,181.11 L311.00,179.25 L311.50,177.34 L312.00,175.38 L312.50,173.42 L313.00,171.45 L313.50,169.52 L314.00,167.63 L314.50,165.81 L315.00,164.04 L315.50,162.25 L316.00,160.39 L316.50,158.42 L317.00,156.37 L317.50,154.27 L318.00,152.13 L318.50,150.00 L319.00,147.92 L319.50,145.88 L320.00,143.77 L320.50,141.49 L321.00,138.92 L321.50,135.83 L322.00,132.43 L322.50,128.98 L323.00,125.74 L323.50,122.90 L324.00,120.11 L324.50,117.49 L325.00,115.28 L325.50,113.75 L326.00,112.50 L326.50,111.40 L327.00,110.59 L327.50,110.21 L328.00,110.36 L328.50,110.95 L329.00,111.91 L329.50,113.16 L330.00,114.74 L330.50,117.81 L331.00,122.09 L331.50,127.35 L332.00,134.70 L332.50,144.71 L333.00,158.30 L333.50,164.61 L334.00,168.65 L334.50,171.85 L335.00,174.45 L335.50,176.74 L336.00,179.00 L336.50,181.31 L337.00,183.55 L337.50,185.74 L338.00,187.91 L338.50,190.07 L339.00,192.24 L339.50,194.42 L340.00,196.59 L340.50,198.72 L341.00,200.79 L341.50,202.80 L342.00,204.85 L342.50,206.92 L343.00,208.95 L343.50,210.87 L344.00,212.64 L344.50,214.20 L345.00,215.50 L345.50,216.70 L346.00,217.84 L346.50,218.92 L347.00,219.93 L347.50,220.89 L348.00,221.78 L348.50,222.60 L349.00,223.36 L349.50,224.04 L350.00,224.66 L350.50,225.21 L351.00,225.74 L351.50,226.25 L352.00,226.73 L352.50,227.20 L353.00,227.64 L353.50,228.07 L354.00,228.46 L354.50,228.84 L355.00,229.18 L355.50,229.50 L356.00,229.80 L356.50,230.06 L357.00,230.29 L357.50,230.49 L358.00,230.67 L358.50,230.82 L359.00,230.97 L359.50,231.11 L360.00,231.24 L360.50,231.36 L361.00,231.48 L361.50,231.59 L362.00,231.69 L362.50,231.79 L363.00,231.89 L363.50,231.98 L364.00,232.06 L364.50,232.15 L365.00,232.23 L365.50,232.31 L366.00,232.38 L366.50,232.46 L367.00,232.54 L367.50,232.62 L368.00,232.70 L368.50,232.78 L369.00,232.86 L369.50,232.94 L370.00,233.02 L370.50,233.09 L371.00,233.17 L371.50,233.24 L372.00,233.32 L372.50,233.39 L373.00,233.46 L373.50,233.53 L374.00,233.60 L374.50,233.67 L375.00,233.74 L375.50,233.81 L376.00,233.87 L376.50,233.94 L377.00,234.00 L377.50,234.07 L378.00,234.13 L378.50,234.19 L379.00,234.25 L379.50,234.31 L380.00,234.37 L380.50,234.42 L381.00,234.48 L381.50,234.54 L382.00,234.59 L382.50,234.65 L383.00,234.70 L383.50,234.75 L384.00,234.80 L384.50,234.85 L385.00,234.90 L385.50,234.95 L386.00,235.00 L386.50,235.04 L387.00,235.09 L387.50,235.14 L388.00,235.19 L388.50,235.23 L389.00,235.28 L389.50,235.33 L390.00,235.37 L390.50,235.42 L391.00,235.47 L391.50,235.51 L392.00,235.56 L392.50,235.60 L393.00,235.65 L393.50,235.69 L394.00,235.73 L394.50,235.78 L395.00,235.82 L395.50,235.86 L396.00,235.90 L396.50,235.94 L397.00,235.99 L397.50,236.03 L398.00,236.07 L398.50,236.11 L399.00,236.15 L399.50,236.18 L400.00,236.22 L400.50,236.26 L401.00,236.30 L401.50,236.33 L402.00,236.37 L402.50,236.41 L403.00,236.44 L403.50,236.47 L404.00,236.51 L404.50,236.54 L405.00,236.57 L405.50,236.61 L406.00,236.64 L406.50,236.67 L407.00,236.70 L407.50,236.73 L408.00,236.76 L408.50,236.78 L409.00,236.81 L409.50,236.84 L410.00,236.86 L410.50,236.89 L411.00,236.91 L411.50,236.93 L412.00,236.96" stroke="#cfab6c"/>
<path d="M225.00,237.79 L225.50,237.77 L226.00,237.76 L226.50,237.74 L227.00,237.72 L227.50,237.70 L228.00,237.69 L228.50,237.67 L229.00,237.65 L229.50,237.62 L230.00,237.60 L230.50,237.58 L231.00,237.56 L231.50,237.53 L232.00,237.51 L232.50,237.48 L233.00,237.46 L233.50,237.43 L234.00,237.40 L234.50,237.38 L235.00,237.35 L235.50,237.32 L236.00,237.29 L236.50,237.26 L237.00,237.23 L237.50,237.20 L238.00,237.17 L238.50,237.14 L239.00,237.11 L239.50,237.07 L240.00,237.04 L240.50,237.01 L241.00,236.98 L241.50,236.94 L242.00,236.91 L242.50,236.87 L243.00,236.84 L243.50,236.81 L244.00,236.77 L244.50,236.74 L245.00,236.70 L245.50,236.66 L246.00,236.63 L246.50,236.59 L247.00,236.55 L247.50,236.51 L248.00,236.46 L248.50,236.42 L249.00,236.38 L249.50,236.33 L250.00,236.28 L250.50,236.24 L251.00,236.19 L251.50,236.14 L252.00,236.09 L252.50,236.04 L253.00,235.99 L253.50,235.93 L254.00,235.88 L254.50,235.83 L255.00,235.77 L255.50,235.72 L256.00,235.66 L256.50,235.61 L257.00,235.55 L257.50,235.49 L258.00,235.43 L258.50,235.38 L259.00,235.32 L259.50,235.26 L260.00,235.20 L260.50,235.14 L261.00,235.08 L261.50,235.02 L262.00,234.96 L262.50,234.89 L263.00,234.83 L263.50,234.76 L264.00,234.70 L264.50,234.63 L265.00,234.56 L265.50,234.49 L266.00,234.42 L266.50,234.35 L267.00,234.27 L267.50,234.20 L268.00,234.12 L268.50,234.04 L269.00,233.96 L269.50,233.88 L270.00,233.80 L270.50,233.72 L271.00,233.63 L271.50,233.54 L272.00,233.44 L272.50,233.35 L273.00,233.25 L273.50,233.15 L274.00,233.05 L274.50,232.94 L275.00,232.83 L275.50,232.72 L276.00,232.60 L276.50,232.48 L277.00,232.36 L277.50,232.23 L278.00,232.11 L278.50,231.97 L279.00,231.83 L279.50,231.68 L280.00,231.53 L280.50,231.37 L281.00,231.20 L281.50,231.02 L282.00,230.82 L282.50,230.60 L283.00,230.37 L283.50,230.14 L284.00,229.89 L284.50,229.65 L285.00,229.40 L285.50,229.15 L286.00,228.90 L286.50,228.65 L287.00,228.38 L287.50,228.10 L288.00,227.81 L288.50,227.50 L289.00,227.17 L289.50,226.81 L290.00,226.43 L290.50,226.03 L291.00,225.62 L291.50,225.20 L292.00,224.76 L292.50,224.31 L293.00,223.84 L293.50,223.35 L294.00,222.83 L294.50,222.30 L295.00,221.75 L295.50,221.17 L296.00,220.57 L296.50,219.93 L297.00,219.24 L297.50,218.49 L298.00,217.63 L298.50,216.69 L299.00,215.71 L299.50,214.70 L300.00,213.70 L300.50,212.69 L301.00,211.63 L301.50,210.49 L302.00,209.21 L302.50,207.78 L303.00,206.24 L303.50,204.69 L304.00,203.11 L304.50,201.48 L305.00,199.83 L305.50,198.15 L306.00,196.43 L306.50,194.70 L307.00,193.00 L307.50,191.37 L308.00,189.77 L308.50,188.17 L309.00,186.50 L309.50,184.78 L310.00,183.02 L310.50,181.17 L311.00,179.21 L311.50,177.20 L312.00,175.04 L312.50,172.55 L313.00,169.46 L313.50,165.67 L314.00,161.60 L314.50,157.54 L315.00,153.26 L315.50,149.24 L316.00,145.68 L316.50,142.21 L317.00,138.43 L317.50,134.24 L318.00,129.93 L318.50,125.78 L319.00,121.93 L319.50,118.20 L320.00,114.65 L320.50,111.36 L321.00,108.31 L321.50,105.44 L322.00,102.68 L322.50,100.00 L323.00,97.28 L323.50,94.58 L324.00,92.08 L324.50,90.00 L325.00,88.10 L325.50,86.22 L326.00,84.65 L326.50,83.68 L327.00,83.56 L327.50,84.16 L328.00,85.30 L328.50,86.81 L329.00,88.55 L329.50,90.38 L330.00,92.71 L330.50,95.71 L331.00,99.24 L331.50,103.51 L332.00,108.90 L332.50,115.00 L333.00,122.09 L333.50,130.00 L334.00,137.94 L334.50,154.17 L335.00,164.80 L335.50,170.33 L336.00,174.16 L336.50,177.07 L337.00,179.53 L337.50,182.00 L338.00,184.56 L338.50,187.04 L339.00,189.49 L339.50,192.00 L340.00,194.67 L340.50,197.44 L341.00,200.13 L341.50,202.56 L342.00,204.69 L342.50,206.73 L343.00,208.67 L343.50,210.48 L344.00,212.16 L344.50,213.67 L345.00,215.00 L345.50,216.21 L346.00,217.36 L346.50,218.46 L347.00,219.50 L347.50,220.48 L348.00,221.40 L348.50,222.26 L349.00,223.05 L349.50,223.77 L350.00,224.42 L350.50,225.00 L351.00,225.53 L351.50,226.05 L352.00,226.54 L352.50,227.02 L353.00,227.47 L353.50,227.91 L354.00,228.31 L354.50,228.70 L355.00,229.06 L355.50,229.39 L356.00,229.69 L356.50,229.97 L357.00,230.21 L357.50,230.42 L358.00,230.60 L358.50,230.76 L359.00,230.90 L359.50,231.04 L360.00,231.17 L360.50,231.29 L361.00,231.41 L361.50,231.52 L362.00,231.62 L362.50,231.71 L363.00,231.81 L363.50,231.89 L364.00,231.98 L364.50,232.06 L365.00,232.14 L365.50,232.21 L366.00,232.29 L366.50,232.37 L367.00,232.44 L367.50,232.52 L368.00,232.60 L368.50,232.68 L369.00,232.76 L369.50,232.84 L370.00,232.91 L370.50,232.99 L371.00,233.06 L371.50,233.14 L372.00,233.21 L372.50,233.29 L373.00,233.36 L373.50,233.43 L374.00,233.50 L374.50,233.57 L375.00,233.64 L375.50,233.70 L376.00,233.77 L376.50,233.83 L377.00,233.90 L377.50,233.96 L378.00,234.02 L378.50,234.09 L379.00,234.15 L379.50,234.21 L380.00,234.27 L380.50,234.32 L381.00,234.38 L381.50,234.44 L382.00,234.49 L382.50,234.54 L383.00,234.60 L383.50,234.65 L384.00,234.70 L384.50,234.75 L385.00,234.80 L385.50,234.85 L386.00,234.90 L386.50,234.94 L387.00,234.99 L387.50,235.04 L388.00,235.09 L388.50,235.13 L389.00,235.18 L389.50,235.23 L390.00,235.27 L390.50,235.32 L391.00,235.37 L391.50,235.41 L392.00,235.46 L392.50,235.50 L393.00,235.55 L393.50,235.59 L394.00,235.63 L394.50,235.68 L395.00,235.72 L395.50,235.76 L396.00,235.80 L396.50,235.84 L397.00,235.89 L397.50,235.93 L398.00,235.97 L398.50,236.01 L399.00,236.05 L399.50,236.08 L400.00,236.12 L400.50,236.16 L401.00,236.20 L401.50,236.23 L402.00,236.27 L402.50,236.31 L403.00,236.34 L403.50,236.37 L404.00,236.41 L404.50,236.44 L405.00,236.47 L405.50,236.51 L406.00,236.54 L406.50,236.57 L407.00,236.60 L407.50,236.63 L408.00,236.66 L408.50,236.68 L409.00,236.71 L409.50,236.74 L410.00,236.76 L410.50,236.79 L411.00,236.81 L411.50,236.83 L412.00,236.86" stroke="#e0d96e"/>
</g>
<path d="M110.4,133.9H128.4M127.5,99.2H144.5" stroke="#f2a6de" stroke-width="1" fill="none" opacity="0.8"/>
<rect x="26.7" y="16.2" width="188.90" height="251.80" fill="none" stroke="#111" stroke-width="1.45"/>
<rect x="224.3" y="16.2" width="188.70" height="251.80" fill="none" stroke="#111" stroke-width="1.45"/>
<path d="M71.20,268.00V251.80M71.20,16.20V32.00M121.20,268.00V251.80M121.20,16.20V32.00M171.20,268.00V251.80M171.20,16.20V32.00M46.20,268.00V259.90M46.20,16.20V24.00M96.20,268.00V259.90M96.20,16.20V24.00M146.20,268.00V259.90M146.20,16.20V24.00M196.20,268.00V259.90M196.20,16.20V24.00M260.40,268.00V251.80M260.40,16.20V32.00M315.20,268.00V251.80M315.20,16.20V32.00M370.00,268.00V251.80M370.00,16.20V32.00M233.00,268.00V259.90M233.00,16.20V24.00M287.80,268.00V259.90M287.80,16.20V24.00M342.60,268.00V259.90M342.60,16.20V24.00M397.40,268.00V259.90M397.40,16.20V24.00" fill="none" stroke="#111" stroke-width="1.45"/>
<rect x="168.1" y="5.3" width="97.20" height="167.20" fill="#fff" stroke="#111" stroke-width="1.3"/>
<path d="M212.3,15.1H218.7" stroke="#111" stroke-width="1.3"/>
<path d="M173.5,33.00H193.7" stroke="#3a3878" stroke-width="1.3" fill="none"/>
<path d="M173.5,51.40H193.7" stroke="#7258a4" stroke-width="1.3" fill="none"/>
<path d="M173.5,69.80H193.7" stroke="#92689a" stroke-width="1.3" fill="none"/>
<path d="M173.5,88.20H193.7" stroke="#ae8290" stroke-width="1.3" fill="none"/>
<path d="M173.5,106.60H193.7" stroke="#c49a84" stroke-width="1.3" fill="none"/>
<path d="M173.5,125.00H193.7" stroke="#d4b682" stroke-width="1.3" fill="none"/>
<path d="M173.5,143.40H193.7" stroke="#e2da7e" stroke-width="1.3" fill="none"/>
<path d="M173.5,161.80H193.7" stroke="#8c8c8c" stroke-width="1.3" stroke-dasharray="4.5,3.2" fill="none"/>
<g filter="url(#gs)">
<g fill="#8c8c8c" font-size="12">
<text x="106.6" y="39.7">a</text>
<text x="125.2" y="39.7">a'</text>
<text x="146.9" y="39.7">a''</text>
<text x="309.2" y="44.8">b</text>
<text x="333.7" y="46.3">c</text>
</g>
<g fill="#111" stroke="#111" stroke-width="0.35" font-size="14.5" text-anchor="middle">
<text x="71.20" y="287.6">720</text>
<text x="121.20" y="287.6">740</text>
<text x="171.20" y="287.6">760</text>
<text x="260.40" y="287.6">850</text>
<text x="315.20" y="287.6">900</text>
<text x="370.00" y="287.6">950</text>
<text x="122" y="309">Raman shift (cm<tspan font-size="10" dy="-5.5">−1</tspan><tspan dy="5.5">)</tspan></text>
<text x="320.4" y="309">Raman shift (cm<tspan font-size="10" dy="-5.5">−1</tspan><tspan dy="5.5">)</tspan></text>
<text transform="translate(16.6,141.6) rotate(-90)" x="0" y="0" font-size="14.7">Intensity (a.u.)</text>
</g>
<g fill="#111" stroke="#111" stroke-width="0.35" font-size="14.5">
<text x="34" y="43.5">(a)</text>
<text x="389.3" y="45.3">(b)</text>
</g>
<g fill="#111" stroke="#111" stroke-width="0.3">
<text x="172.2" y="19.9" font-size="13">(THF)</text>
<text x="206.6" y="22.9" font-size="8.2" transform="skewX(-6) translate(2.4,0)">n</text>
<text x="219.3" y="19.9" font-size="13">LiTFSI</text>
<text x="197.5" y="38.30" font-size="14.8">n = 1.60</text>
<text x="197.5" y="56.70" font-size="14.8">n = 2.00</text>
<text x="197.5" y="75.10" font-size="14.8">n = 2.78</text>
<text x="197.5" y="93.50" font-size="14.8">n = 3.95</text>
<text x="197.5" y="111.90" font-size="14.8">n = 5.90</text>
<text x="197.5" y="130.30" font-size="14.8">n = 9.79</text>
<text x="197.5" y="148.70" font-size="14.8">n = 21.49</text>
<text x="197.5" y="167.10" font-size="14.8">neat THF</text>
</g>
</g>
</svg></body></html>
